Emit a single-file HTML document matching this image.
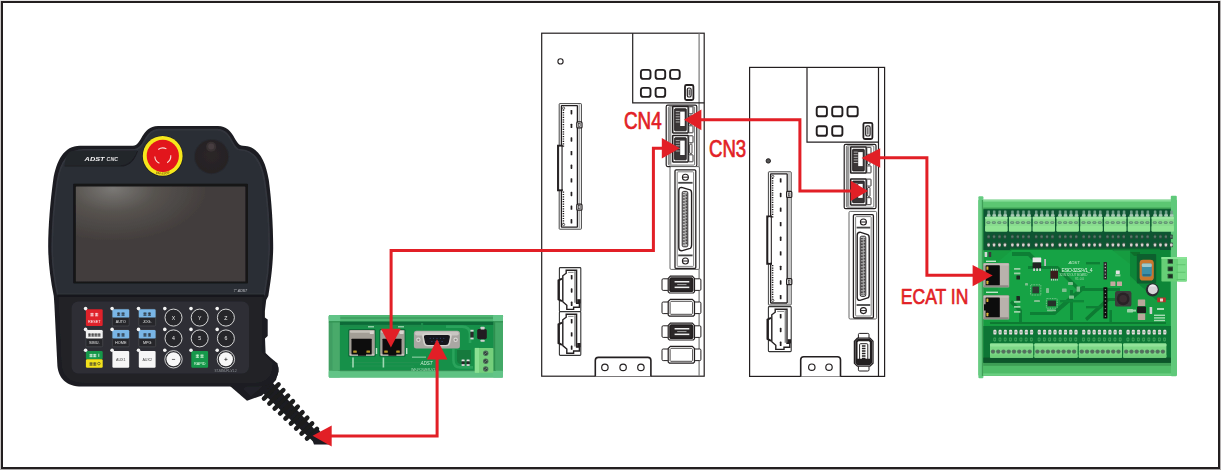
<!DOCTYPE html>
<html><head><meta charset="utf-8"><title>EtherCAT wiring</title>
<style>
html,body{margin:0;padding:0;background:#fff;}
body{width:1221px;height:470px;overflow:hidden;font-family:"Liberation Sans",sans-serif;}
svg{display:block;}
text{font-family:"Liberation Sans",sans-serif;}
</style></head><body>
<svg width="1221" height="470" viewBox="0 0 1221 470">
<rect x="0" y="0" width="1221" height="470" fill="#b4b1b1"/>
<rect x="0" y="0" width="1221" height="1" fill="#e6e4e4"/>
<rect x="0" y="1" width="1" height="469" fill="#c8c5c5"/>
<rect x="0" y="469" width="1221" height="1" fill="#aaa7a7"/>
<rect x="1" y="1" width="1219" height="468" fill="#231f20"/>
<rect x="3" y="3" width="1215" height="464" fill="#ffffff"/>
<defs>
<filter id="bl3" x="-5%" y="-5%" width="110%" height="110%"><feGaussianBlur stdDeviation="0.45"/></filter>
<radialGradient id="scr" cx="0.22" cy="0.02" r="0.55" fx="0.22" fy="0.02">
<stop offset="0" stop-color="#7a7875"/><stop offset="0.45" stop-color="#57534f"/><stop offset="1" stop-color="#433e3d"/></radialGradient>
<linearGradient id="bodyg" x1="0" y1="0" x2="1" y2="0"><stop offset="0" stop-color="#1e2025"/><stop offset="0.04" stop-color="#2a2d34"/><stop offset="0.96" stop-color="#2a2d34"/><stop offset="1" stop-color="#1e2025"/></linearGradient>
<radialGradient id="knob" cx="0.5" cy="0.45" r="0.5"><stop offset="0" stop-color="#2b2628"/><stop offset="1" stop-color="#262224"/></radialGradient>
</defs>
<g filter="url(#bl3)">
<polygon points="269.3,378.9 320.7,436.2 314.1,442.6 258.7,389.1" fill="#1c1d21"/>
<line x1="278.6" y1="384.4" x2="263.9" y2="398.6" stroke="#1a1b1f" stroke-width="4.40" stroke-linecap="round"/>
<line x1="283.4" y1="390.0" x2="269.3" y2="403.6" stroke="#1a1b1f" stroke-width="4.40" stroke-linecap="round"/>
<line x1="288.2" y1="395.5" x2="274.6" y2="408.6" stroke="#1a1b1f" stroke-width="4.40" stroke-linecap="round"/>
<line x1="293.0" y1="401.1" x2="280.0" y2="413.6" stroke="#1a1b1f" stroke-width="4.40" stroke-linecap="round"/>
<line x1="297.8" y1="406.6" x2="285.4" y2="418.6" stroke="#1a1b1f" stroke-width="4.40" stroke-linecap="round"/>
<line x1="302.6" y1="412.2" x2="290.8" y2="423.6" stroke="#1a1b1f" stroke-width="4.40" stroke-linecap="round"/>
<line x1="307.4" y1="417.7" x2="296.1" y2="428.6" stroke="#1a1b1f" stroke-width="4.40" stroke-linecap="round"/>
<line x1="312.2" y1="423.3" x2="301.5" y2="433.6" stroke="#1a1b1f" stroke-width="4.40" stroke-linecap="round"/>
<line x1="317.0" y1="428.8" x2="306.9" y2="438.6" stroke="#1a1b1f" stroke-width="4.40" stroke-linecap="round"/>
<polygon points="310.6,435 318,428.6 329,444.4 314,444.4" fill="#1c1d21"/>
<path d="M230,386 L247,400.8 L262,395.4 L276,380 L278.4,371.6 L277.6,363.6 L266,354 L240,372 Z" fill="#1b1c20"/>
<path d="M243,389 L251,396.6 L268,381 L259,374 Z" fill="#232429"/>
<path d="M80,145.8 L133,145.8 C142,145.8 141,126.6 158,126 L218,126 C235,126.6 234,145.8 243,145.8 C258,146 265.5,160 268.8,180 C271.5,200 273.2,225 273.2,247 C273,268 270,285 268.3,296 L266.2,300 L264.9,311 L264.9,317.4 L267.7,319.4 L267.7,336 L265,338.4 L265.6,353 L276.8,364.4 Q278.7,366.4 278.7,369 L278.4,372 C277,381 268,386.6 258,386.6 L82,386.6 C66,386.6 58.6,378 57.4,366 L54.4,305 L53.8,296 C50.4,280 48.2,262 48.2,247 C48.2,225 50.5,200 53.2,180 C56.5,160 64,146 80,145.8 Z" fill="#1c1d21"/>
<path d="M84,149.8 L134,149.8 C145,149.8 144,130 159.4,129.6 L217,129.6 C232.4,130 231.6,149.8 240,149.8 C254,150 261.4,162 264.6,181 C267.4,200 269.2,226 269.2,247 C269,268 266.4,284 264.4,294.4 L57.6,294.4 C54.4,280 52.2,262 52.2,247 C52.2,226 54.6,200 57.4,181 C60.6,162 68,150 84,149.8 Z" fill="#2b2e35"/>
<path d="M84,149.8 L134,149.8 C145,149.8 144,130 159.4,129.6 L217,129.6 C232.4,130 231.6,149.8 240,149.8 C254,150 261.4,162 264.6,181 C267.4,200 269.2,226 269.2,247 C269,268 266.4,284 264.4,294.4 L57.6,294.4 C54.4,280 52.2,262 52.2,247 C52.2,226 54.6,200 57.4,181 C60.6,162 68,150 84,149.8 Z" fill="none" stroke="#33363e" stroke-width="1.6"/>
<path d="M64.6,165.4 L120,165.4 C130,165.4 134,158 136.4,150.4 L74,150.4 C68,151 65.4,156 64.6,165.4 Z" fill="#24262c"/>
<path d="M64.6,166 L120,166 C131,166 135,158 137.4,151" fill="none" stroke="#1b1c20" stroke-width="1.2"/>
<text x="84.6" y="161.4" font-size="6.2" font-weight="bold" font-style="italic" fill="#f2f2f2" textLength="20" lengthAdjust="spacingAndGlyphs">ADST</text>
<text x="106.6" y="161.4" font-size="5.6" font-weight="bold" font-style="italic" fill="#e4e4e4" textLength="11.4" lengthAdjust="spacingAndGlyphs">CNC</text>
<circle cx="162.7" cy="156" r="20.6" fill="#1f2126"/>
<circle cx="162.7" cy="155.9" r="19.9" fill="#f6e71c"/>
<circle cx="162.8" cy="155.8" r="16.1" fill="#e2141b"/>
<path d="M158.21,149.45 A8,8 0 0 1 166.43,148.87" fill="none" stroke="#f8dcd4" stroke-width="1.1"/>
<path d="M170.77,155.30 A8,8 0 0 1 167.16,162.71" fill="none" stroke="#f8dcd4" stroke-width="1.1"/>
<path d="M159.42,163.25 A8,8 0 0 1 154.81,156.42" fill="none" stroke="#f8dcd4" stroke-width="1.1"/>
<path id="esarc" d="M149.4,169.2 A18.8,18.8 0 0 0 176,169.2" fill="none"/>
<text font-size="3.2" font-weight="bold" fill="#7a5a10"><textPath href="#esarc" startOffset="26%">EM-STOP</textPath></text>
<circle cx="211.6" cy="156.6" r="17.6" fill="#26292f"/>
<circle cx="211.6" cy="156.6" r="16.6" fill="url(#knob)"/>
<circle cx="211.2" cy="146.8" r="5" fill="#383133"/>
<circle cx="211.2" cy="146.6" r="3" fill="#463e41"/>
<rect x="73.2" y="183.8" width="174.8" height="99.6" rx="1" fill="#131316" />
<rect x="75.8" y="186.6" width="169.6" height="94.8" rx="0.5" fill="url(#scr)" />
<text x="233.6" y="291.6" font-size="3.4" font-style="italic" fill="#c9ccd2" textLength="13.6">7&quot; ADST</text>
<path d="M57.4,294.4 L264,294.4 L264,296.4 L57.6,296.4 Z" fill="#16171a"/>
<path d="M58.6,297 L262.6,297 L261.6,352 L272.6,363 C273,376 266,382.8 256,382.8 L84,382.8 C70,382.8 62.6,376 61.6,364 Z" fill="#222328"/>
<rect x="71.6" y="301.4" width="177.4" height="72.2" rx="7" fill="#2e2f35" />
<rect x="85.9" y="309.2" width="16.8" height="16.8" rx="1.2" fill="#e0202a" />
<rect x="90.40" y="312.90" width="3.20" height="3.20" fill="#ffffff" opacity="0.32"/>
<path d="M90.40,313.82 h3.20 M92.00,312.90 v3.20 M90.40,315.90 h3.20" stroke="#ffffff" stroke-width="0.55" fill="none"/>
<rect x="95.00" y="312.90" width="3.20" height="3.20" fill="#ffffff" opacity="0.32"/>
<path d="M95.00,313.82 h3.20 M96.60,312.90 v3.20 M95.00,315.90 h3.20" stroke="#ffffff" stroke-width="0.55" fill="none"/>
<text x="94.3" y="323" font-size="4.2" fill="#fff" text-anchor="middle" textLength="12.4" lengthAdjust="spacingAndGlyphs">RESET</text>
<rect x="112.4" y="309.2" width="16.8" height="16.8" rx="1.2" fill="#26272b" stroke="#4a4b50" stroke-width="0.7"/>
<rect x="112.4" y="309.2" width="16.8" height="8.4" rx="1.2" fill="#79b6e6" />
<rect x="117.00" y="312.40" width="3.10" height="3.10" fill="#1d1d20" opacity="0.32"/>
<path d="M117.00,313.28 h3.10 M118.55,312.40 v3.10 M117.00,315.30 h3.10" stroke="#1d1d20" stroke-width="0.55" fill="none"/>
<rect x="121.50" y="312.40" width="3.10" height="3.10" fill="#1d1d20" opacity="0.32"/>
<path d="M121.50,313.28 h3.10 M123.05,312.40 v3.10 M121.50,315.30 h3.10" stroke="#1d1d20" stroke-width="0.55" fill="none"/>
<text x="120.8" y="323.4" font-size="4" fill="#e6e6e6" text-anchor="middle" textLength="10" lengthAdjust="spacingAndGlyphs">AUTO</text>
<rect x="138.8" y="309.2" width="16.8" height="16.8" rx="1.2" fill="#26272b" stroke="#4a4b50" stroke-width="0.7"/>
<rect x="138.8" y="309.2" width="16.8" height="8.4" rx="1.2" fill="#79b6e6" />
<rect x="143.40" y="312.40" width="3.10" height="3.10" fill="#1d1d20" opacity="0.32"/>
<path d="M143.40,313.28 h3.10 M144.95,312.40 v3.10 M143.40,315.30 h3.10" stroke="#1d1d20" stroke-width="0.55" fill="none"/>
<rect x="147.90" y="312.40" width="3.10" height="3.10" fill="#1d1d20" opacity="0.32"/>
<path d="M147.90,313.28 h3.10 M149.45,312.40 v3.10 M147.90,315.30 h3.10" stroke="#1d1d20" stroke-width="0.55" fill="none"/>
<text x="147.2" y="323.4" font-size="4" fill="#e6e6e6" text-anchor="middle" textLength="9" lengthAdjust="spacingAndGlyphs">JOG.</text>
<rect x="85.9" y="330" width="16.8" height="16.8" rx="1.2" fill="#26272b" stroke="#4a4b50" stroke-width="0.7"/>
<rect x="85.9" y="330" width="16.8" height="8.4" rx="1.2" fill="#f2f2f2" />
<rect x="88.05" y="333.40" width="2.90" height="2.90" fill="#1d1d20" opacity="0.32"/>
<path d="M88.05,334.20 h2.90 M89.50,333.40 v2.90 M88.05,336.10 h2.90" stroke="#1d1d20" stroke-width="0.55" fill="none"/>
<rect x="91.25" y="333.40" width="2.90" height="2.90" fill="#1d1d20" opacity="0.32"/>
<path d="M91.25,334.20 h2.90 M92.70,333.40 v2.90 M91.25,336.10 h2.90" stroke="#1d1d20" stroke-width="0.55" fill="none"/>
<rect x="94.45" y="333.40" width="2.90" height="2.90" fill="#1d1d20" opacity="0.32"/>
<path d="M94.45,334.20 h2.90 M95.90,333.40 v2.90 M94.45,336.10 h2.90" stroke="#1d1d20" stroke-width="0.55" fill="none"/>
<rect x="97.65" y="333.40" width="2.90" height="2.90" fill="#1d1d20" opacity="0.32"/>
<path d="M97.65,334.20 h2.90 M99.10,333.40 v2.90 M97.65,336.10 h2.90" stroke="#1d1d20" stroke-width="0.55" fill="none"/>
<text x="94.3" y="344.2" font-size="4" fill="#e6e6e6" text-anchor="middle" textLength="10.6" lengthAdjust="spacingAndGlyphs">SIMU.</text>
<rect x="112.4" y="330" width="16.8" height="16.8" rx="1.2" fill="#26272b" stroke="#4a4b50" stroke-width="0.7"/>
<rect x="112.4" y="330" width="16.8" height="8.4" rx="1.2" fill="#79b6e6" />
<rect x="117.00" y="333.20" width="3.10" height="3.10" fill="#1d1d20" opacity="0.32"/>
<path d="M117.00,334.08 h3.10 M118.55,333.20 v3.10 M117.00,336.10 h3.10" stroke="#1d1d20" stroke-width="0.55" fill="none"/>
<rect x="121.50" y="333.20" width="3.10" height="3.10" fill="#1d1d20" opacity="0.32"/>
<path d="M121.50,334.08 h3.10 M123.05,333.20 v3.10 M121.50,336.10 h3.10" stroke="#1d1d20" stroke-width="0.55" fill="none"/>
<text x="120.8" y="344.2" font-size="4" fill="#e6e6e6" text-anchor="middle" textLength="11.4" lengthAdjust="spacingAndGlyphs">HOME</text>
<rect x="138.8" y="330" width="16.8" height="16.8" rx="1.2" fill="#26272b" stroke="#4a4b50" stroke-width="0.7"/>
<rect x="138.8" y="330" width="16.8" height="8.4" rx="1.2" fill="#79b6e6" />
<rect x="143.40" y="333.20" width="3.10" height="3.10" fill="#1d1d20" opacity="0.32"/>
<path d="M143.40,334.08 h3.10 M144.95,333.20 v3.10 M143.40,336.10 h3.10" stroke="#1d1d20" stroke-width="0.55" fill="none"/>
<rect x="147.90" y="333.20" width="3.10" height="3.10" fill="#1d1d20" opacity="0.32"/>
<path d="M147.90,334.08 h3.10 M149.45,333.20 v3.10 M147.90,336.10 h3.10" stroke="#1d1d20" stroke-width="0.55" fill="none"/>
<text x="147.2" y="344.2" font-size="4" fill="#e6e6e6" text-anchor="middle" textLength="8.6" lengthAdjust="spacingAndGlyphs">MPG</text>
<rect x="85.9" y="350.9" width="16.8" height="8.4" rx="1.2" fill="#14984a" />
<rect x="85.9" y="359.3" width="16.8" height="8.4" rx="1.2" fill="#f3e21c" />
<rect x="89.50" y="353.90" width="3.10" height="3.10" fill="#ffffff" opacity="0.32"/>
<path d="M89.50,354.78 h3.10 M91.05,353.90 v3.10 M89.50,356.80 h3.10" stroke="#ffffff" stroke-width="0.55" fill="none"/>
<rect x="93.20" y="353.90" width="3.10" height="3.10" fill="#ffffff" opacity="0.32"/>
<path d="M93.20,354.78 h3.10 M94.75,353.90 v3.10 M93.20,356.80 h3.10" stroke="#ffffff" stroke-width="0.55" fill="none"/>
<rect x="98.5" y="353.7" width="0.7" height="3.2" fill="#fff"/>
<rect x="89.50" y="362.30" width="3.10" height="3.10" fill="#333333" opacity="0.32"/>
<path d="M89.50,363.18 h3.10 M91.05,362.30 v3.10 M89.50,365.20 h3.10" stroke="#333333" stroke-width="0.55" fill="none"/>
<rect x="93.20" y="362.30" width="3.10" height="3.10" fill="#333333" opacity="0.32"/>
<path d="M93.20,363.18 h3.10 M94.75,362.30 v3.10 M93.20,365.20 h3.10" stroke="#333333" stroke-width="0.55" fill="none"/>
<circle cx="98.9" cy="363.6" r="1.3" fill="none" stroke="#333" stroke-width="0.6"/>
<rect x="112.4" y="350.9" width="16.8" height="16.8" rx="1.2" fill="#f6f6f6" />
<text x="120.8" y="360.7" font-size="3.8" fill="#444" text-anchor="middle" textLength="9.6" lengthAdjust="spacingAndGlyphs">AUX1</text>
<rect x="138.8" y="350.9" width="16.8" height="16.8" rx="1.2" fill="#f6f6f6" />
<text x="147.2" y="360.7" font-size="3.8" fill="#444" text-anchor="middle" textLength="9.6" lengthAdjust="spacingAndGlyphs">AUX2</text>
<circle cx="173.5" cy="317.6" r="8.5" fill="#26272b" stroke="#e8e8e8" stroke-width="0.9"/>
<text x="173.5" y="319.5" font-size="5.2" fill="#ececec" text-anchor="middle">X</text>
<circle cx="199.7" cy="317.6" r="8.5" fill="#26272b" stroke="#e8e8e8" stroke-width="0.9"/>
<text x="199.7" y="319.5" font-size="5.2" fill="#ececec" text-anchor="middle">Y</text>
<circle cx="225.9" cy="317.6" r="8.5" fill="#26272b" stroke="#e8e8e8" stroke-width="0.9"/>
<text x="225.9" y="319.5" font-size="5.2" fill="#ececec" text-anchor="middle">Z</text>
<circle cx="173.5" cy="338.4" r="8.5" fill="#26272b" stroke="#e8e8e8" stroke-width="0.9"/>
<text x="173.5" y="340.3" font-size="5.2" fill="#ececec" text-anchor="middle">4</text>
<circle cx="199.7" cy="338.4" r="8.5" fill="#26272b" stroke="#e8e8e8" stroke-width="0.9"/>
<text x="199.7" y="340.3" font-size="5.2" fill="#ececec" text-anchor="middle">5</text>
<circle cx="225.9" cy="338.4" r="8.5" fill="#26272b" stroke="#e8e8e8" stroke-width="0.9"/>
<text x="225.9" y="340.3" font-size="5.2" fill="#ececec" text-anchor="middle">6</text>
<circle cx="173.5" cy="359.3" r="8.7" fill="#2a2a2e" stroke="#f2f2f2" stroke-width="0.8"/>
<circle cx="173.5" cy="359.3" r="7" fill="#f7f7f7"/>
<rect x="171.9" y="358.95" width="3.2" height="0.7" fill="#333"/>
<circle cx="225.9" cy="359.3" r="8.7" fill="#2a2a2e" stroke="#f2f2f2" stroke-width="0.8"/>
<circle cx="225.9" cy="359.3" r="7" fill="#f7f7f7"/>
<rect x="224.3" y="358.95" width="3.2" height="0.7" fill="#333"/>
<rect x="225.55" y="357.7" width="0.7" height="3.2" fill="#333"/>
<rect x="191.3" y="350.9" width="16.8" height="16.8" rx="1.2" fill="#17984b" />
<rect x="195.80" y="354.40" width="3.20" height="3.20" fill="#eaffea" opacity="0.32"/>
<path d="M195.80,355.32 h3.20 M197.40,354.40 v3.20 M195.80,357.40 h3.20" stroke="#eaffea" stroke-width="0.55" fill="none"/>
<rect x="200.40" y="354.40" width="3.20" height="3.20" fill="#eaffea" opacity="0.32"/>
<path d="M200.40,355.32 h3.20 M202.00,354.40 v3.20 M200.40,357.40 h3.20" stroke="#eaffea" stroke-width="0.55" fill="none"/>
<text x="199.7" y="364.5" font-size="4" fill="#eaffea" text-anchor="middle" textLength="11.6" lengthAdjust="spacingAndGlyphs">RAPID</text>
<circle cx="85.6" cy="308.6" r="1.8" fill="#f4f4f4"/>
<circle cx="112.1" cy="308.6" r="1.8" fill="#f4f4f4"/>
<circle cx="138.5" cy="308.6" r="1.8" fill="#f4f4f4"/>
<circle cx="164.8" cy="308.6" r="1.8" fill="#f4f4f4"/>
<circle cx="191" cy="308.6" r="1.8" fill="#f4f4f4"/>
<circle cx="217.2" cy="308.6" r="1.8" fill="#f4f4f4"/>
<circle cx="85.6" cy="329.4" r="1.8" fill="#f4f4f4"/>
<circle cx="112.1" cy="329.4" r="1.8" fill="#f4f4f4"/>
<circle cx="138.5" cy="329.4" r="1.8" fill="#f4f4f4"/>
<circle cx="164.8" cy="329.4" r="1.8" fill="#f4f4f4"/>
<circle cx="191" cy="329.4" r="1.8" fill="#f4f4f4"/>
<circle cx="217.2" cy="329.4" r="1.8" fill="#f4f4f4"/>
<circle cx="85.6" cy="350.3" r="1.8" fill="#f4f4f4"/>
<circle cx="112.1" cy="350.3" r="1.8" fill="#f4f4f4"/>
<circle cx="138.5" cy="350.3" r="1.8" fill="#f4f4f4"/>
<circle cx="164.8" cy="350.3" r="1.8" fill="#f4f4f4"/>
<circle cx="191" cy="350.3" r="1.8" fill="#f4f4f4"/>
<circle cx="217.2" cy="350.3" r="1.8" fill="#f4f4f4"/>
<text x="214.6" y="372.4" font-size="3" fill="#9a9ca3" textLength="22">ST-MINI-F1-V1.2</text>
</g>
<defs><filter id="bl1" x="-5%" y="-10%" width="110%" height="120%"><feGaussianBlur stdDeviation="0.55"/></filter></defs>
<g filter="url(#bl1)">
<rect x="328.8" y="315" width="174.2" height="62.6" rx="1.2" fill="#4fb270" />
<rect x="328.8" y="315" width="174.2" height="6.6" rx="1" fill="#50b673" />
<rect x="328.8" y="317.2" width="174.2" height="1.6" rx="0" fill="#3f9c5f" />
<rect x="328.8" y="370.6" width="174.2" height="7" rx="1" fill="#5fc283" />
<rect x="338" y="369.6" width="158" height="1.6" rx="0" fill="#3a8f57" />
<rect x="328.8" y="321.6" width="11.2" height="49" rx="0" fill="#3f9e62" />
<rect x="332.5" y="321.6" width="7" height="49" rx="0" fill="#48aa6a" />
<rect x="493.2" y="321.6" width="9.8" height="49" rx="0" fill="#43a866" />
<rect x="493.2" y="321.6" width="2" height="49" rx="0" fill="#2f8f50" />
<rect x="493" y="315" width="10" height="6.4" rx="1" fill="#62c487" />
<rect x="493" y="371" width="10" height="6.6" rx="1" fill="#62c487" />
<rect x="328.8" y="315" width="11.4" height="6.4" rx="1" fill="#62c487" />
<rect x="328.8" y="371" width="11.4" height="6.6" rx="1" fill="#62c487" />
<rect x="493" y="321.2" width="10" height="1.2" rx="0" fill="#2f8f50" />
<rect x="328.8" y="321.2" width="11.2" height="1.2" rx="0" fill="#2f8f50" />
<rect x="340" y="321.6" width="153.2" height="48.6" rx="0" fill="#17904a" />
<rect x="340" y="321.6" width="153.2" height="3.4" rx="0" fill="#0f6a38" />
<rect x="343" y="324.8" width="80" height="2.2" rx="0" fill="#1b8a49" />
<path d="M446,326.6 H462 Q470,326.6 470,334 V343" fill="none" stroke="#2aa35b" stroke-width="2.6"/>
<path d="M453.4,349 V360 Q453.4,367.4 460.4,367.4 H473" fill="none" stroke="#2aa35b" stroke-width="2.6"/>
<path d="M457,350 h14 v14 h-10 q-4,0 -4,-4 Z" fill="#127a3e"/>
<rect x="350" y="362" width="70" height="1.3" rx="0" fill="#209150" />
<rect x="350" y="365.5" width="64" height="1.3" rx="0" fill="#209150" />
<rect x="421" y="323" width="2.2" height="14" rx="0" fill="#1c8d4b" />
<rect x="348.2" y="329" width="27.6" height="27.8" rx="1.5" fill="#0f6a38" />
<rect x="349.2" y="330" width="25.6" height="25.8" rx="1" fill="#a39e96" />
<rect x="350" y="330.6" width="24" height="2.2" rx="0.8" fill="#c6c2ba" />
<rect x="369.8" y="331" width="4" height="3" rx="0.6" fill="#d8d5cf" />
<rect x="349.8" y="353.8" width="24.4" height="1.6" rx="0.5" fill="#c9c6c0" />
<rect x="351.5" y="338.8" width="20.2" height="15.6" rx="0.5" fill="#0c0b0d" />
<rect x="358" y="353.4" width="8" height="2.4" rx="0.3" fill="#0c0b0d" />
<rect x="353.2" y="350.6" width="3.6" height="2.2" rx="0.5" fill="#b99a2c" />
<rect x="366.4" y="350.6" width="3.6" height="2.2" rx="0.5" fill="#b99a2c" />
<rect x="379.2" y="329" width="26.4" height="27.8" rx="1.5" fill="#0f6a38" />
<rect x="380.2" y="330" width="24.4" height="25.8" rx="1" fill="#a39e96" />
<rect x="381" y="330.6" width="22.8" height="2.2" rx="0.8" fill="#c6c2ba" />
<rect x="399.6" y="331" width="4" height="3" rx="0.6" fill="#d8d5cf" />
<rect x="380.8" y="353.8" width="23.2" height="1.6" rx="0.5" fill="#c9c6c0" />
<rect x="382.5" y="338.8" width="19" height="15.6" rx="0.5" fill="#0c0b0d" />
<rect x="388.4" y="353.4" width="8" height="2.4" rx="0.3" fill="#0c0b0d" />
<rect x="384.2" y="350.6" width="3.6" height="2.2" rx="0.5" fill="#b99a2c" />
<rect x="396.2" y="350.6" width="3.6" height="2.2" rx="0.5" fill="#b99a2c" />
<rect x="352.2" y="357.5" width="1.6" height="10" rx="0" fill="#9fd8b2" />
<rect x="382.6" y="357.5" width="1.6" height="10" rx="0" fill="#9fd8b2" />
<rect x="375.8" y="348" width="1.4" height="6" rx="0" fill="#bfe6cc" />
<rect x="406" y="348" width="1.4" height="6" rx="0" fill="#bfe6cc" />
<rect x="368" y="326.2" width="6" height="1.2" rx="0" fill="#a8dcb9" />
<rect x="398" y="326.2" width="6" height="1.2" rx="0" fill="#a8dcb9" />
<rect x="413.9" y="330.7" width="46" height="17.8" rx="2.5" fill="#aaa7a3" />
<rect x="415" y="331.6" width="43.8" height="4" rx="2" fill="#c9c6c2" />
<path d="M424.6,333.6 h24.6 q3,0 2.4,3 l-1.4,7 q-0.6,2.6 -3.4,2.6 h-19.8 q-2.8,0 -3.4,-2.6 l-1.4,-7 q-0.6,-3 2.4,-3 Z" fill="#d6d3cf"/>
<path d="M426,335 h21.8 q2.4,0 2,2.4 l-1.1,5.4 q-0.5,2.2 -2.8,2.2 h-18 q-2.3,0 -2.8,-2.2 l-1.1,-5.4 q-0.4,-2.4 2,-2.4 Z" fill="#17161c"/>
<circle cx="418.4" cy="339.8" r="2.2" fill="#d9d7d3"/>
<circle cx="418.4" cy="339.8" r="1.1" fill="#8d8a86"/>
<circle cx="455.6" cy="339.8" r="2.2" fill="#d9d7d3"/>
<circle cx="455.6" cy="339.8" r="1.1" fill="#8d8a86"/>
<circle cx="430.2" cy="338.3" r="0.55" fill="#3b4b86"/>
<circle cx="433.6" cy="338.3" r="0.55" fill="#3b4b86"/>
<circle cx="437" cy="338.3" r="0.55" fill="#3b4b86"/>
<circle cx="440.4" cy="338.3" r="0.55" fill="#3b4b86"/>
<circle cx="443.8" cy="338.3" r="0.55" fill="#3b4b86"/>
<circle cx="431.9" cy="341.6" r="0.55" fill="#3b4b86"/>
<circle cx="435.3" cy="341.6" r="0.55" fill="#3b4b86"/>
<circle cx="438.7" cy="341.6" r="0.55" fill="#3b4b86"/>
<circle cx="442.1" cy="341.6" r="0.55" fill="#3b4b86"/>
<text x="420.5" y="365.2" font-size="4.6" fill="#c8ecd4" font-style="italic" textLength="12">ADST</text>
<text x="411" y="371" font-size="3.6" fill="#9fd8b2" textLength="27">WF-POWER-V1.0</text>
<rect x="412" y="356.6" width="14" height="1.1" rx="0" fill="#8fd0a6" />
<rect x="477.2" y="329" width="9.6" height="10.2" rx="1.6" fill="#241c20" />
<rect x="480.6" y="326.8" width="4" height="2.6" rx="0.4" fill="#cfcfcf" />
<rect x="480.6" y="339.8" width="4" height="2" rx="0.4" fill="#cfcfcf" />
<rect x="470.4" y="331.4" width="3.2" height="6.4" rx="0.4" fill="#2a2a2a" />
<rect x="470.4" y="329.8" width="3.2" height="1.8" rx="0" fill="#d8d8d8" />
<rect x="470.4" y="337.6" width="3.2" height="1.8" rx="0" fill="#d8d8d8" />
<rect x="461.6" y="359.6" width="3" height="2" rx="0.3" fill="#e6e6e6" />
<rect x="461.6" y="364" width="3" height="2" rx="0.3" fill="#cfcfcf" />
<rect x="461.6" y="361.4" width="3" height="2.7" rx="0" fill="#262626" />
<rect x="466.6" y="359.6" width="3" height="2" rx="0.3" fill="#e6e6e6" />
<rect x="466.6" y="364" width="3" height="2" rx="0.3" fill="#cfcfcf" />
<rect x="466.6" y="361.4" width="3" height="2.7" rx="0" fill="#262626" />
<rect x="474.8" y="347.9" width="18.6" height="24.9" rx="0.8" fill="#74cf7c" />
<rect x="474.8" y="347.9" width="4.2" height="24.9" rx="0" fill="#8be092" />
<circle cx="485.7" cy="353.3" r="2.7" fill="#4b6b58"/>
<circle cx="485.7" cy="353.3" r="1.6" fill="#2b3a33"/>
<line x1="484.3" y1="354.3" x2="487.1" y2="352.3" stroke="#9bb3a4" stroke-width="0.6"/>
<circle cx="485.7" cy="361.2" r="2.7" fill="#4b6b58"/>
<circle cx="485.7" cy="361.2" r="1.6" fill="#2b3a33"/>
<line x1="484.3" y1="362.2" x2="487.1" y2="360.2" stroke="#9bb3a4" stroke-width="0.6"/>
<circle cx="485.7" cy="369" r="2.7" fill="#4b6b58"/>
<circle cx="485.7" cy="369" r="1.6" fill="#2b3a33"/>
<line x1="484.3" y1="370" x2="487.1" y2="368" stroke="#9bb3a4" stroke-width="0.6"/>
</g>
<rect x="541.7" y="33.2" width="162.5" height="343" fill="#fff" stroke="#231f20" stroke-width="1.2"/>
<line x1="699.1" y1="33.2" x2="699.1" y2="376.2" stroke="#777" stroke-width="1.2"/>
<path d="M632.7,33.2 L632.7,102.9 L704.2,102.9" fill="none" stroke="#231f20" stroke-width="1.2"/>
<circle cx="560.5" cy="61.4" r="2.6" fill="#fff" stroke="#231f20" stroke-width="1.1"/>
<rect x="640.9" y="69.9" width="9.6" height="9" rx="2.4" fill="#fff" stroke="#231f20" stroke-width="1.9"/>
<rect x="655.6" y="69.9" width="9.6" height="9" rx="2.4" fill="#fff" stroke="#231f20" stroke-width="1.9"/>
<rect x="670.1" y="69.9" width="9.6" height="9" rx="2.4" fill="#fff" stroke="#231f20" stroke-width="1.9"/>
<rect x="640.9" y="87.9" width="9.6" height="9" rx="2.4" fill="#fff" stroke="#231f20" stroke-width="1.9"/>
<rect x="655.6" y="87.9" width="9.6" height="9" rx="2.4" fill="#fff" stroke="#231f20" stroke-width="1.9"/>
<rect x="685" y="85" width="8.4" height="15" rx="1.5" fill="#fff" stroke="#231f20" stroke-width="1.8"/>
<rect x="687.3" y="88" width="3.8" height="9" rx="1.6" fill="#fff" stroke="#231f20" stroke-width="1.2"/>
<line x1="689.2" y1="89.5" x2="689.2" y2="95.5" stroke="#231f20" stroke-width="1"/>
<rect x="666.2" y="105.2" width="30.6" height="61.4" rx="1.5" fill="#fff" stroke="#231f20" stroke-width="1.2"/>
<rect x="668.4" y="106.7" width="26.2" height="58.4" rx="1" fill="#fff" stroke="#555" stroke-width="0.8"/>
<rect x="668.8" y="107.2" width="2.6" height="57.4" fill="#9a9a9a"/>
<rect x="672.7" y="106.6" width="15.5" height="26.4" rx="0.4" fill="#fff" stroke="#231f20" stroke-width="1.5"/>
<rect x="674.7" y="108.8" width="11.5" height="22" rx="0.5" fill="#3a3637" stroke="#231f20" stroke-width="1"/>
<rect x="680.2" y="111.6" width="4.5" height="14.4" fill="#fff"/>
<line x1="675.7" y1="111.6" x2="679.7" y2="111.6" stroke="#ddd" stroke-width="0.7"/>
<line x1="675.7" y1="114.2" x2="679.7" y2="114.2" stroke="#ddd" stroke-width="0.7"/>
<line x1="675.7" y1="116.8" x2="679.7" y2="116.8" stroke="#ddd" stroke-width="0.7"/>
<line x1="675.7" y1="119.4" x2="679.7" y2="119.4" stroke="#ddd" stroke-width="0.7"/>
<line x1="675.7" y1="122" x2="679.7" y2="122" stroke="#ddd" stroke-width="0.7"/>
<rect x="688.8" y="106.8" width="4.2" height="7" rx="0.5" fill="#fff" stroke="#231f20" stroke-width="0.9"/>
<rect x="688.8" y="125.8" width="4.2" height="7" rx="0.5" fill="#fff" stroke="#231f20" stroke-width="0.9"/>
<rect x="689.6" y="115.2" width="2.4" height="9.2" rx="0.4" fill="#fff" stroke="#231f20" stroke-width="0.8"/>
<rect x="672.7" y="135.6" width="15.5" height="26.4" rx="0.4" fill="#fff" stroke="#231f20" stroke-width="1.5"/>
<rect x="674.7" y="137.8" width="11.5" height="22" rx="0.5" fill="#3a3637" stroke="#231f20" stroke-width="1"/>
<rect x="680.2" y="140.6" width="4.5" height="14.4" fill="#fff"/>
<line x1="675.7" y1="140.6" x2="679.7" y2="140.6" stroke="#ddd" stroke-width="0.7"/>
<line x1="675.7" y1="143.2" x2="679.7" y2="143.2" stroke="#ddd" stroke-width="0.7"/>
<line x1="675.7" y1="145.8" x2="679.7" y2="145.8" stroke="#ddd" stroke-width="0.7"/>
<line x1="675.7" y1="148.4" x2="679.7" y2="148.4" stroke="#ddd" stroke-width="0.7"/>
<line x1="675.7" y1="151" x2="679.7" y2="151" stroke="#ddd" stroke-width="0.7"/>
<rect x="688.8" y="135.8" width="4.2" height="7" rx="0.5" fill="#fff" stroke="#231f20" stroke-width="0.9"/>
<rect x="688.8" y="154.8" width="4.2" height="7" rx="0.5" fill="#fff" stroke="#231f20" stroke-width="0.9"/>
<rect x="689.6" y="144.2" width="2.4" height="9.2" rx="0.4" fill="#fff" stroke="#231f20" stroke-width="0.8"/>
<rect x="670" y="166.6" width="29.4" height="102.8" rx="1.2" fill="#fff" stroke="#555" stroke-width="0.9"/>
<rect x="675" y="169.8" width="20.8" height="98.6" rx="1.2" fill="#fff" stroke="#231f20" stroke-width="1.3"/>
<rect x="677.2" y="171.8" width="16.4" height="94.6" rx="0.8" fill="#fff" stroke="#666" stroke-width="0.8"/>
<circle cx="685.4" cy="177.2" r="3.0" fill="#fff" stroke="#231f20" stroke-width="1.1"/>
<line x1="682.4" y1="177.2" x2="688.4" y2="177.2" stroke="#231f20" stroke-width="1"/>
<line x1="678.2" y1="182.8" x2="692.6" y2="182.8" stroke="#444" stroke-width="1.8"/>
<circle cx="685.4" cy="261" r="3.0" fill="#fff" stroke="#231f20" stroke-width="1.1"/>
<line x1="682.4" y1="261" x2="688.4" y2="261" stroke="#231f20" stroke-width="1"/>
<line x1="678.2" y1="255.4" x2="692.6" y2="255.4" stroke="#444" stroke-width="1.8"/>
<path d="M678.8,190.4 Q678.8,187.4 681.6,187.4 L690.1,189.9 Q691.6,190.4 691.6,193.4 L691.6,244.8 Q691.6,247.8 690.1,248.3 L681.6,250.8 Q678.8,250.8 678.8,247.8 Z" fill="#fff" stroke="#231f20" stroke-width="1.4"/>
<rect x="682.2" y="191.4" width="5.6" height="55.4" rx="1.5" fill="#bbb" stroke="#231f20" stroke-width="0.9"/>
<line x1="683.8" y1="193.4" x2="683.8" y2="244.8" stroke="#231f20" stroke-width="2.0" stroke-dasharray="0.7 0.8"/>
<line x1="686.4" y1="193.8" x2="686.4" y2="244.8" stroke="#231f20" stroke-width="1.6" stroke-dasharray="0.7 0.8"/>
<rect x="559.2" y="103.6" width="22.2" height="125.6" rx="0.6" fill="#fff" stroke="#444" stroke-width="1"/>
<rect x="561.4" y="105.6" width="16" height="121.6" rx="0.4" fill="#fff" stroke="#231f20" stroke-width="1.3"/>
<line x1="579.2" y1="104.6" x2="579.2" y2="228.2" stroke="#666" stroke-width="0.7"/>
<rect x="570.6" y="110" width="1.7" height="4.4" rx="0.6" fill="#231f20"/>
<rect x="570.6" y="123.637" width="1.7" height="4.4" rx="0.6" fill="#231f20"/>
<rect x="570.6" y="137.275" width="1.7" height="4.4" rx="0.6" fill="#231f20"/>
<rect x="570.6" y="150.912" width="1.7" height="4.4" rx="0.6" fill="#231f20"/>
<rect x="570.6" y="164.55" width="1.7" height="4.4" rx="0.6" fill="#231f20"/>
<rect x="570.6" y="178.188" width="1.7" height="4.4" rx="0.6" fill="#231f20"/>
<rect x="570.6" y="191.825" width="1.7" height="4.4" rx="0.6" fill="#231f20"/>
<rect x="570.6" y="205.462" width="1.7" height="4.4" rx="0.6" fill="#231f20"/>
<rect x="570.6" y="219.1" width="1.7" height="4.4" rx="0.6" fill="#231f20"/>
<line x1="563.4" y1="109.6" x2="563.4" y2="146.932" stroke="#231f20" stroke-width="1.5" stroke-dasharray="1.2 1.2"/>
<line x1="563.4" y1="191.52" x2="563.4" y2="224.2" stroke="#231f20" stroke-width="1.5" stroke-dasharray="1.2 1.2"/>
<circle cx="563.6" cy="108.2" r="1.1" fill="#fff" stroke="#231f20" stroke-width="0.7"/>
<circle cx="563.6" cy="224.6" r="1.1" fill="#fff" stroke="#231f20" stroke-width="0.7"/>
<path d="M562.8,145.676 L558,145.676 L558,190.264 L562.8,190.264" fill="none" stroke="#231f20" stroke-width="1.9"/>
<rect x="559.2" y="146.676" width="2.6" height="42.588" fill="#fff"/>
<line x1="562.1" y1="145.676" x2="562.1" y2="190.264" stroke="#231f20" stroke-width="1"/>
<rect x="576.8" y="121.952" width="5.2" height="6" rx="1" fill="#fff" stroke="#231f20" stroke-width="1.2"/>
<rect x="578.5" y="123.352" width="1.7" height="3.2" fill="#ccc" stroke="#231f20" stroke-width="0.6"/>
<rect x="576.8" y="204.22" width="5.2" height="6" rx="1" fill="#fff" stroke="#231f20" stroke-width="1.2"/>
<rect x="578.5" y="205.62" width="1.7" height="3.2" fill="#ccc" stroke="#231f20" stroke-width="0.6"/>
<rect x="559.4" y="267.6" width="21.4" height="44" rx="0.8" fill="#fff" stroke="#333" stroke-width="1.1"/>
<path d="M566.2,270.2 L576.6,270.2 L576.6,303.2 L579.4,303.2 L579.4,307.2 L573.6,307.2 L573.6,309.4 L566.8,309.4 L566.8,305.2 L562.8,301.8 L562.8,275.8 L566.2,273.2 Z" fill="#fff" stroke="#231f20" stroke-width="1.4"/>
<line x1="575" y1="271.2" x2="575" y2="302.8" stroke="#8a8a8a" stroke-width="1.6"/>
<line x1="568.2" y1="272.4" x2="573.6" y2="272.4" stroke="#555" stroke-width="0.7"/>
<rect x="570.8" y="275" width="1.7" height="4.4" rx="0.6" fill="#231f20"/>
<rect x="570.8" y="288.3" width="1.7" height="4.4" rx="0.6" fill="#231f20"/>
<rect x="570.8" y="301.6" width="1.7" height="4.4" rx="0.6" fill="#231f20"/>
<path d="M562,278.6 L558.5,280.36 L558.5,299.28 L562,301.04" fill="none" stroke="#231f20" stroke-width="2"/>
<rect x="577.2" y="299.2" width="3.4" height="4.2" fill="#231f20"/>
<rect x="559.4" y="311.6" width="21.4" height="43.8" rx="0.8" fill="#fff" stroke="#333" stroke-width="1.1"/>
<path d="M566.2,314.2 L576.6,314.2 L576.6,347 L579.4,347 L579.4,351 L573.6,351 L573.6,353.2 L566.8,353.2 L566.8,349 L562.8,345.6 L562.8,319.8 L566.2,317.2 Z" fill="#fff" stroke="#231f20" stroke-width="1.4"/>
<line x1="575" y1="315.2" x2="575" y2="346.6" stroke="#8a8a8a" stroke-width="1.6"/>
<line x1="568.2" y1="316.4" x2="573.6" y2="316.4" stroke="#555" stroke-width="0.7"/>
<rect x="570.8" y="319" width="1.7" height="4.4" rx="0.6" fill="#231f20"/>
<rect x="570.8" y="332.2" width="1.7" height="4.4" rx="0.6" fill="#231f20"/>
<rect x="570.8" y="345.4" width="1.7" height="4.4" rx="0.6" fill="#231f20"/>
<path d="M562,322.55 L558.5,324.302 L558.5,343.136 L562,344.888" fill="none" stroke="#231f20" stroke-width="2"/>
<rect x="577.2" y="343" width="3.4" height="4.2" fill="#231f20"/>
<rect x="662" y="278.8" width="7" height="11.6" rx="1.2" fill="#fff" stroke="#231f20" stroke-width="1"/>
<rect x="693.9" y="278.8" width="7" height="11.6" rx="1.2" fill="#fff" stroke="#231f20" stroke-width="1"/>
<polygon points="670.4,276.2 692.3,276.2 694.5,278.4 694.5,291.8 693.3,293 669.4,293 668.2,291.8 668.2,278.4" fill="#fff" stroke="#231f20" stroke-width="1.2"/>
<polygon points="671.16,278.1 691.54,278.1 692.6,279.16 692.6,290.5 692,291.1 670.7,291.1 670.1,290.5 670.1,279.16" fill="#2b2728" stroke="#231f20" stroke-width="1.8"/>
<rect x="674.6" y="281" width="14.7" height="1.5" fill="#efefef"/>
<rect x="674.6" y="286.6" width="14.7" height="1.5" fill="#efefef"/>
<rect x="677.2" y="284" width="9.3" height="1.1" fill="#9a9a9a"/>
<rect x="662" y="302" width="7" height="11.6" rx="1.2" fill="#fff" stroke="#231f20" stroke-width="1"/>
<rect x="693.9" y="302" width="7" height="11.6" rx="1.2" fill="#fff" stroke="#231f20" stroke-width="1"/>
<polygon points="670.4,299.4 692.3,299.4 694.5,301.6 694.5,315 693.3,316.2 669.4,316.2 668.2,315 668.2,301.6" fill="#fff" stroke="#231f20" stroke-width="1.2"/>
<polygon points="671.16,301.3 691.54,301.3 692.6,302.36 692.6,313.7 692,314.3 670.7,314.3 670.1,313.7 670.1,302.36" fill="#fff" stroke="#231f20" stroke-width="0.8"/>
<rect x="662" y="325.8" width="7" height="11.6" rx="1.2" fill="#fff" stroke="#231f20" stroke-width="1"/>
<rect x="693.9" y="325.8" width="7" height="11.6" rx="1.2" fill="#fff" stroke="#231f20" stroke-width="1"/>
<polygon points="670.4,323.2 692.3,323.2 694.5,325.4 694.5,338.8 693.3,340 669.4,340 668.2,338.8 668.2,325.4" fill="#fff" stroke="#231f20" stroke-width="1.2"/>
<polygon points="671.16,325.1 691.54,325.1 692.6,326.16 692.6,337.5 692,338.1 670.7,338.1 670.1,337.5 670.1,326.16" fill="#2b2728" stroke="#231f20" stroke-width="1.8"/>
<rect x="674.6" y="328" width="14.7" height="1.5" fill="#efefef"/>
<rect x="674.6" y="333.6" width="14.7" height="1.5" fill="#efefef"/>
<rect x="677.2" y="331" width="9.3" height="1.1" fill="#9a9a9a"/>
<rect x="662" y="349" width="7" height="11.6" rx="1.2" fill="#fff" stroke="#231f20" stroke-width="1"/>
<rect x="693.9" y="349" width="7" height="11.6" rx="1.2" fill="#fff" stroke="#231f20" stroke-width="1"/>
<polygon points="670.4,346.4 692.3,346.4 694.5,348.6 694.5,362 693.3,363.2 669.4,363.2 668.2,362 668.2,348.6" fill="#fff" stroke="#231f20" stroke-width="1.2"/>
<polygon points="671.16,348.3 691.54,348.3 692.6,349.36 692.6,360.7 692,361.3 670.7,361.3 670.1,360.7 670.1,349.36" fill="#fff" stroke="#231f20" stroke-width="0.8"/>
<path d="M595.3,376.2 L595.3,360.5 Q595.3,357.4 598.4,357.4 L647.8,357.4 Q650.9,357.4 650.9,360.5 L650.9,376.2" fill="#fff" stroke="#231f20" stroke-width="1.6"/>
<circle cx="604.9" cy="367.4" r="3.2" fill="#fff" stroke="#231f20" stroke-width="1.2"/>
<circle cx="623.1" cy="367.4" r="3.2" fill="#fff" stroke="#231f20" stroke-width="1.2"/>
<circle cx="640.9" cy="367.4" r="3.2" fill="#fff" stroke="#231f20" stroke-width="1.2"/>
<rect x="749.6" y="67.4" width="135" height="309" fill="#fff" stroke="#231f20" stroke-width="1.2"/>
<line x1="878.5" y1="67.4" x2="878.5" y2="376.4" stroke="#231f20" stroke-width="1.2"/>
<path d="M807,67.4 L807,142.1 L878.5,142.1" fill="none" stroke="#231f20" stroke-width="1.2"/>
<circle cx="768.3" cy="160.9" r="2.2" fill="#555" stroke="#231f20" stroke-width="1.0"/>
<rect x="816.7" y="106.7" width="10.2" height="9.6" rx="2.4" fill="#fff" stroke="#231f20" stroke-width="1.9"/>
<rect x="832.2" y="106.7" width="10.2" height="9.6" rx="2.4" fill="#fff" stroke="#231f20" stroke-width="1.9"/>
<rect x="847.5" y="106.7" width="10.2" height="9.6" rx="2.4" fill="#fff" stroke="#231f20" stroke-width="1.9"/>
<rect x="816.7" y="126.2" width="10.2" height="9.6" rx="2.4" fill="#fff" stroke="#231f20" stroke-width="1.9"/>
<rect x="832.2" y="126.2" width="10.2" height="9.6" rx="2.4" fill="#fff" stroke="#231f20" stroke-width="1.9"/>
<rect x="863.4" y="122.8" width="9" height="16.2" rx="1.5" fill="#fff" stroke="#231f20" stroke-width="1.8"/>
<rect x="865.7" y="125.8" width="4.4" height="10.2" rx="1.6" fill="#fff" stroke="#231f20" stroke-width="1.2"/>
<line x1="867.9" y1="127.3" x2="867.9" y2="134.5" stroke="#231f20" stroke-width="1"/>
<rect x="844.2" y="144.3" width="31.8" height="64.4" rx="1.5" fill="#fff" stroke="#231f20" stroke-width="1.2"/>
<rect x="846.4" y="145.8" width="27.4" height="61.4" rx="1" fill="#fff" stroke="#555" stroke-width="0.8"/>
<rect x="846.8" y="146.3" width="2.6" height="60.4" fill="#9a9a9a"/>
<rect x="850.7" y="147.1" width="15.5" height="26" rx="0.4" fill="#fff" stroke="#231f20" stroke-width="1.5"/>
<rect x="852.7" y="149.3" width="11.5" height="21.6" rx="0.5" fill="#3a3637" stroke="#231f20" stroke-width="1"/>
<rect x="858.2" y="152.1" width="4.5" height="14" fill="#fff"/>
<line x1="853.7" y1="152.1" x2="857.7" y2="152.1" stroke="#ddd" stroke-width="0.7"/>
<line x1="853.7" y1="154.7" x2="857.7" y2="154.7" stroke="#ddd" stroke-width="0.7"/>
<line x1="853.7" y1="157.3" x2="857.7" y2="157.3" stroke="#ddd" stroke-width="0.7"/>
<line x1="853.7" y1="159.9" x2="857.7" y2="159.9" stroke="#ddd" stroke-width="0.7"/>
<line x1="853.7" y1="162.5" x2="857.7" y2="162.5" stroke="#ddd" stroke-width="0.7"/>
<rect x="866.8" y="147.3" width="4.2" height="7" rx="0.5" fill="#fff" stroke="#231f20" stroke-width="0.9"/>
<rect x="866.8" y="165.9" width="4.2" height="7" rx="0.5" fill="#fff" stroke="#231f20" stroke-width="0.9"/>
<rect x="867.6" y="155.7" width="2.4" height="8.8" rx="0.4" fill="#fff" stroke="#231f20" stroke-width="0.8"/>
<rect x="850.7" y="178.9" width="15.5" height="26" rx="0.4" fill="#fff" stroke="#231f20" stroke-width="1.5"/>
<rect x="852.7" y="181.1" width="11.5" height="21.6" rx="0.5" fill="#3a3637" stroke="#231f20" stroke-width="1"/>
<rect x="858.2" y="183.9" width="4.5" height="14" fill="#fff"/>
<line x1="853.7" y1="183.9" x2="857.7" y2="183.9" stroke="#ddd" stroke-width="0.7"/>
<line x1="853.7" y1="186.5" x2="857.7" y2="186.5" stroke="#ddd" stroke-width="0.7"/>
<line x1="853.7" y1="189.1" x2="857.7" y2="189.1" stroke="#ddd" stroke-width="0.7"/>
<line x1="853.7" y1="191.7" x2="857.7" y2="191.7" stroke="#ddd" stroke-width="0.7"/>
<line x1="853.7" y1="194.3" x2="857.7" y2="194.3" stroke="#ddd" stroke-width="0.7"/>
<rect x="866.8" y="179.1" width="4.2" height="7" rx="0.5" fill="#fff" stroke="#231f20" stroke-width="0.9"/>
<rect x="866.8" y="197.7" width="4.2" height="7" rx="0.5" fill="#fff" stroke="#231f20" stroke-width="0.9"/>
<rect x="867.6" y="187.5" width="2.4" height="8.8" rx="0.4" fill="#fff" stroke="#231f20" stroke-width="0.8"/>
<rect x="849" y="211.4" width="27.6" height="107.6" rx="1.2" fill="#fff" stroke="#555" stroke-width="0.9"/>
<rect x="853.4" y="214.6" width="20" height="103.4" rx="1.2" fill="#fff" stroke="#231f20" stroke-width="1.3"/>
<rect x="855.6" y="216.6" width="15.6" height="99.4" rx="0.8" fill="#fff" stroke="#666" stroke-width="0.8"/>
<circle cx="863.4" cy="222" r="3.0" fill="#fff" stroke="#231f20" stroke-width="1.1"/>
<line x1="860.4" y1="222" x2="866.4" y2="222" stroke="#231f20" stroke-width="1"/>
<line x1="856.6" y1="227.6" x2="870.2" y2="227.6" stroke="#444" stroke-width="1.8"/>
<circle cx="863.4" cy="310.6" r="3.0" fill="#fff" stroke="#231f20" stroke-width="1.1"/>
<line x1="860.4" y1="310.6" x2="866.4" y2="310.6" stroke="#231f20" stroke-width="1"/>
<line x1="856.6" y1="305" x2="870.2" y2="305" stroke="#444" stroke-width="1.8"/>
<path d="M857.2,235.2 Q857.2,232.2 860,232.2 L867.7,234.7 Q869.2,235.2 869.2,238.2 L869.2,294.4 Q869.2,297.4 867.7,297.9 L860,300.4 Q857.2,300.4 857.2,297.4 Z" fill="#fff" stroke="#231f20" stroke-width="1.4"/>
<rect x="860.2" y="236.2" width="5.6" height="60.2" rx="1.5" fill="#bbb" stroke="#231f20" stroke-width="0.9"/>
<line x1="861.8" y1="238.2" x2="861.8" y2="294.4" stroke="#231f20" stroke-width="2.0" stroke-dasharray="0.7 0.8"/>
<line x1="864.4" y1="238.6" x2="864.4" y2="294.4" stroke="#231f20" stroke-width="1.6" stroke-dasharray="0.7 0.8"/>
<rect x="768.4" y="171.8" width="22.8" height="133.2" rx="0.6" fill="#fff" stroke="#444" stroke-width="1"/>
<rect x="770.6" y="173.8" width="16.6" height="129.2" rx="0.4" fill="#fff" stroke="#231f20" stroke-width="1.3"/>
<line x1="789" y1="172.8" x2="789" y2="304" stroke="#666" stroke-width="0.7"/>
<rect x="779.8" y="178.2" width="1.7" height="4.4" rx="0.6" fill="#231f20"/>
<rect x="779.8" y="192.788" width="1.7" height="4.4" rx="0.6" fill="#231f20"/>
<rect x="779.8" y="207.375" width="1.7" height="4.4" rx="0.6" fill="#231f20"/>
<rect x="779.8" y="221.963" width="1.7" height="4.4" rx="0.6" fill="#231f20"/>
<rect x="779.8" y="236.55" width="1.7" height="4.4" rx="0.6" fill="#231f20"/>
<rect x="779.8" y="251.138" width="1.7" height="4.4" rx="0.6" fill="#231f20"/>
<rect x="779.8" y="265.725" width="1.7" height="4.4" rx="0.6" fill="#231f20"/>
<rect x="779.8" y="280.312" width="1.7" height="4.4" rx="0.6" fill="#231f20"/>
<rect x="779.8" y="294.9" width="1.7" height="4.4" rx="0.6" fill="#231f20"/>
<line x1="772.6" y1="177.8" x2="772.6" y2="217.754" stroke="#231f20" stroke-width="1.5" stroke-dasharray="1.2 1.2"/>
<line x1="772.6" y1="265.04" x2="772.6" y2="300" stroke="#231f20" stroke-width="1.5" stroke-dasharray="1.2 1.2"/>
<circle cx="772.8" cy="176.4" r="1.1" fill="#fff" stroke="#231f20" stroke-width="0.7"/>
<circle cx="772.8" cy="300.4" r="1.1" fill="#fff" stroke="#231f20" stroke-width="0.7"/>
<path d="M772,216.422 L767.2,216.422 L767.2,263.708 L772,263.708" fill="none" stroke="#231f20" stroke-width="1.9"/>
<rect x="768.4" y="217.422" width="2.6" height="45.286" fill="#fff"/>
<line x1="771.3" y1="216.422" x2="771.3" y2="263.708" stroke="#231f20" stroke-width="1"/>
<rect x="786.6" y="191.444" width="5.2" height="6" rx="1" fill="#fff" stroke="#231f20" stroke-width="1.2"/>
<rect x="788.3" y="192.844" width="1.7" height="3.2" fill="#ccc" stroke="#231f20" stroke-width="0.6"/>
<rect x="786.6" y="278.69" width="5.2" height="6" rx="1" fill="#fff" stroke="#231f20" stroke-width="1.2"/>
<rect x="788.3" y="280.09" width="1.7" height="3.2" fill="#ccc" stroke="#231f20" stroke-width="0.6"/>
<rect x="768.4" y="306.6" width="22.8" height="45" rx="0.8" fill="#fff" stroke="#333" stroke-width="1.1"/>
<path d="M775.2,309.2 L787,309.2 L787,343.2 L789.8,343.2 L789.8,347.2 L784,347.2 L784,349.4 L775.8,349.4 L775.8,345.2 L771.8,341.8 L771.8,314.8 L775.2,312.2 Z" fill="#fff" stroke="#231f20" stroke-width="1.4"/>
<line x1="785.4" y1="310.2" x2="785.4" y2="342.8" stroke="#8a8a8a" stroke-width="1.6"/>
<line x1="777.2" y1="311.4" x2="784" y2="311.4" stroke="#555" stroke-width="0.7"/>
<rect x="779.8" y="314" width="1.7" height="4.4" rx="0.6" fill="#231f20"/>
<rect x="779.8" y="327.8" width="1.7" height="4.4" rx="0.6" fill="#231f20"/>
<rect x="779.8" y="341.6" width="1.7" height="4.4" rx="0.6" fill="#231f20"/>
<path d="M771,317.85 L767.5,319.65 L767.5,339 L771,340.8" fill="none" stroke="#231f20" stroke-width="2"/>
<rect x="787.6" y="339.2" width="3.4" height="4.2" fill="#231f20"/>
<rect x="858.4" y="333.4" width="10.6" height="6" rx="1.2" fill="#fff" stroke="#231f20" stroke-width="1"/>
<rect x="858.4" y="365" width="10.6" height="6" rx="1.2" fill="#fff" stroke="#231f20" stroke-width="1"/>
<polygon points="857.4,338.2 870,338.2 873,341.2 873,363.2 870,366.2 857.4,366.2 854.4,363.2 854.4,341.2" fill="#fff" stroke="#231f20" stroke-width="1.3"/>
<polygon points="858,340.2 869.4,340.2 871,341.8 871,362.6 869.4,364.2 858,364.2 856.4,362.6 856.4,341.8" fill="#fff" stroke="#231f20" stroke-width="2.3"/>
<rect x="859.6" y="343.7" width="8.2" height="17" rx="1" fill="#fff" stroke="#231f20" stroke-width="1"/>
<line x1="863.7" y1="345.2" x2="863.7" y2="359.2" stroke="#231f20" stroke-width="3.6" stroke-dasharray="1.6 0.9"/>
<path d="M855.9,358.7 L871.5,358.7 L869.5,364.7 L857.9,364.7 Z" fill="#231f20"/>
<line x1="871" y1="343.2" x2="871" y2="360.2" stroke="#231f20" stroke-width="2" stroke-dasharray="0.9 1"/>
<path d="M800.7,376.4 L800.7,359.8 Q800.7,356.7 803.8,356.7 L837.4,356.7 Q840.5,356.7 840.5,359.8 L840.5,376.4" fill="#fff" stroke="#231f20" stroke-width="1.6"/>
<circle cx="811.8" cy="367.2" r="3.2" fill="#fff" stroke="#231f20" stroke-width="1.2"/>
<circle cx="829" cy="367.2" r="3.2" fill="#fff" stroke="#231f20" stroke-width="1.2"/>
<defs><filter id="bl2" x="-5%" y="-5%" width="110%" height="110%"><feGaussianBlur stdDeviation="0.5"/></filter></defs>
<g filter="url(#bl2)">
<rect x="978.4" y="199.8" width="198.4" height="176" rx="1" fill="#4dbb63" />
<rect x="978.4" y="196.2" width="5" height="182" rx="1" fill="#66cc82" />
<rect x="1170.8" y="195.8" width="6" height="180.4" rx="1" fill="#5fc97a" />
<rect x="981.8" y="200" width="1.6" height="176" rx="0" fill="#3f9f58" />
<rect x="983.2" y="199.8" width="187.8" height="9.4" rx="0" fill="#5cc672" />
<rect x="983.2" y="199.8" width="187.8" height="1.8" rx="0" fill="#86dd98" />
<rect x="983.2" y="207.6" width="187.8" height="1.8" rx="0" fill="#3b9a52" />
<rect x="983.2" y="362.8" width="187.8" height="12.8" rx="0" fill="#50bc67" />
<rect x="983.2" y="362.8" width="187.8" height="3" rx="0" fill="#3c9d54" />
<rect x="983.2" y="373.4" width="187.8" height="2.2" rx="0" fill="#6ad081" />
<rect x="983.4" y="209.2" width="187.4" height="153.6" rx="0" fill="#159c41" />
<rect x="983.4" y="209.2" width="187.4" height="41" rx="0" fill="#0b5530" />
<rect x="983.4" y="326" width="187.4" height="36.8" rx="0" fill="#0d7434" />
<rect x="983.4" y="357.6" width="187.4" height="5.2" rx="0" fill="#09552a" />
<rect x="987.4" y="210.4" width="2.6" height="6.4" rx="0.5" fill="#6f9f88" />
<rect x="986.8" y="214.2" width="3.8" height="2.6" rx="0.8" fill="#a9c9b6" />
<rect x="992.9" y="210.4" width="2.6" height="6.4" rx="0.5" fill="#6f9f88" />
<rect x="992.3" y="214.2" width="3.8" height="2.6" rx="0.8" fill="#a9c9b6" />
<rect x="998.4" y="210.4" width="2.6" height="6.4" rx="0.5" fill="#6f9f88" />
<rect x="997.8" y="214.2" width="3.8" height="2.6" rx="0.8" fill="#a9c9b6" />
<rect x="1003.9" y="210.4" width="2.6" height="6.4" rx="0.5" fill="#6f9f88" />
<rect x="1003.3" y="214.2" width="3.8" height="2.6" rx="0.8" fill="#a9c9b6" />
<rect x="985.2" y="216.8" width="22.27" height="14.8" rx="0.8" fill="#88dc8e" />
<rect x="985.2" y="216.8" width="22.27" height="2.4" rx="0.8" fill="#9ce7a2" />
<rect x="985.2" y="226" width="22.27" height="5.6" rx="0.8" fill="#8fe493" />
<ellipse cx="988.4" cy="222.6" rx="2.1" ry="1.5" fill="#5e9270"/>
<ellipse cx="988.4" cy="222.3" rx="1.2" ry="0.8" fill="#7fb08c"/>
<ellipse cx="993.85" cy="222.6" rx="2.1" ry="1.5" fill="#5e9270"/>
<ellipse cx="993.85" cy="222.3" rx="1.2" ry="0.8" fill="#7fb08c"/>
<ellipse cx="999.3" cy="222.6" rx="2.1" ry="1.5" fill="#5e9270"/>
<ellipse cx="999.3" cy="222.3" rx="1.2" ry="0.8" fill="#7fb08c"/>
<ellipse cx="1004.75" cy="222.6" rx="2.1" ry="1.5" fill="#5e9270"/>
<ellipse cx="1004.75" cy="222.3" rx="1.2" ry="0.8" fill="#7fb08c"/>
<rect x="1011.17" y="210.4" width="2.6" height="6.4" rx="0.5" fill="#6f9f88" />
<rect x="1010.57" y="214.2" width="3.8" height="2.6" rx="0.8" fill="#a9c9b6" />
<rect x="1016.67" y="210.4" width="2.6" height="6.4" rx="0.5" fill="#6f9f88" />
<rect x="1016.07" y="214.2" width="3.8" height="2.6" rx="0.8" fill="#a9c9b6" />
<rect x="1022.17" y="210.4" width="2.6" height="6.4" rx="0.5" fill="#6f9f88" />
<rect x="1021.57" y="214.2" width="3.8" height="2.6" rx="0.8" fill="#a9c9b6" />
<rect x="1027.67" y="210.4" width="2.6" height="6.4" rx="0.5" fill="#6f9f88" />
<rect x="1027.07" y="214.2" width="3.8" height="2.6" rx="0.8" fill="#a9c9b6" />
<rect x="1008.97" y="216.8" width="22.27" height="14.8" rx="0.8" fill="#88dc8e" />
<rect x="1008.97" y="216.8" width="22.27" height="2.4" rx="0.8" fill="#9ce7a2" />
<rect x="1008.97" y="226" width="22.27" height="5.6" rx="0.8" fill="#8fe493" />
<ellipse cx="1012.17" cy="222.6" rx="2.1" ry="1.5" fill="#5e9270"/>
<ellipse cx="1012.17" cy="222.3" rx="1.2" ry="0.8" fill="#7fb08c"/>
<ellipse cx="1017.62" cy="222.6" rx="2.1" ry="1.5" fill="#5e9270"/>
<ellipse cx="1017.62" cy="222.3" rx="1.2" ry="0.8" fill="#7fb08c"/>
<ellipse cx="1023.07" cy="222.6" rx="2.1" ry="1.5" fill="#5e9270"/>
<ellipse cx="1023.07" cy="222.3" rx="1.2" ry="0.8" fill="#7fb08c"/>
<ellipse cx="1028.52" cy="222.6" rx="2.1" ry="1.5" fill="#5e9270"/>
<ellipse cx="1028.52" cy="222.3" rx="1.2" ry="0.8" fill="#7fb08c"/>
<rect x="1034.94" y="210.4" width="2.6" height="6.4" rx="0.5" fill="#6f9f88" />
<rect x="1034.34" y="214.2" width="3.8" height="2.6" rx="0.8" fill="#a9c9b6" />
<rect x="1040.44" y="210.4" width="2.6" height="6.4" rx="0.5" fill="#6f9f88" />
<rect x="1039.84" y="214.2" width="3.8" height="2.6" rx="0.8" fill="#a9c9b6" />
<rect x="1045.94" y="210.4" width="2.6" height="6.4" rx="0.5" fill="#6f9f88" />
<rect x="1045.34" y="214.2" width="3.8" height="2.6" rx="0.8" fill="#a9c9b6" />
<rect x="1051.44" y="210.4" width="2.6" height="6.4" rx="0.5" fill="#6f9f88" />
<rect x="1050.84" y="214.2" width="3.8" height="2.6" rx="0.8" fill="#a9c9b6" />
<rect x="1032.74" y="216.8" width="22.27" height="14.8" rx="0.8" fill="#88dc8e" />
<rect x="1032.74" y="216.8" width="22.27" height="2.4" rx="0.8" fill="#9ce7a2" />
<rect x="1032.74" y="226" width="22.27" height="5.6" rx="0.8" fill="#8fe493" />
<ellipse cx="1035.94" cy="222.6" rx="2.1" ry="1.5" fill="#5e9270"/>
<ellipse cx="1035.94" cy="222.3" rx="1.2" ry="0.8" fill="#7fb08c"/>
<ellipse cx="1041.39" cy="222.6" rx="2.1" ry="1.5" fill="#5e9270"/>
<ellipse cx="1041.39" cy="222.3" rx="1.2" ry="0.8" fill="#7fb08c"/>
<ellipse cx="1046.84" cy="222.6" rx="2.1" ry="1.5" fill="#5e9270"/>
<ellipse cx="1046.84" cy="222.3" rx="1.2" ry="0.8" fill="#7fb08c"/>
<ellipse cx="1052.29" cy="222.6" rx="2.1" ry="1.5" fill="#5e9270"/>
<ellipse cx="1052.29" cy="222.3" rx="1.2" ry="0.8" fill="#7fb08c"/>
<rect x="1058.71" y="210.4" width="2.6" height="6.4" rx="0.5" fill="#6f9f88" />
<rect x="1058.11" y="214.2" width="3.8" height="2.6" rx="0.8" fill="#a9c9b6" />
<rect x="1064.21" y="210.4" width="2.6" height="6.4" rx="0.5" fill="#6f9f88" />
<rect x="1063.61" y="214.2" width="3.8" height="2.6" rx="0.8" fill="#a9c9b6" />
<rect x="1069.71" y="210.4" width="2.6" height="6.4" rx="0.5" fill="#6f9f88" />
<rect x="1069.11" y="214.2" width="3.8" height="2.6" rx="0.8" fill="#a9c9b6" />
<rect x="1075.21" y="210.4" width="2.6" height="6.4" rx="0.5" fill="#6f9f88" />
<rect x="1074.61" y="214.2" width="3.8" height="2.6" rx="0.8" fill="#a9c9b6" />
<rect x="1056.51" y="216.8" width="22.27" height="14.8" rx="0.8" fill="#88dc8e" />
<rect x="1056.51" y="216.8" width="22.27" height="2.4" rx="0.8" fill="#9ce7a2" />
<rect x="1056.51" y="226" width="22.27" height="5.6" rx="0.8" fill="#8fe493" />
<ellipse cx="1059.71" cy="222.6" rx="2.1" ry="1.5" fill="#5e9270"/>
<ellipse cx="1059.71" cy="222.3" rx="1.2" ry="0.8" fill="#7fb08c"/>
<ellipse cx="1065.16" cy="222.6" rx="2.1" ry="1.5" fill="#5e9270"/>
<ellipse cx="1065.16" cy="222.3" rx="1.2" ry="0.8" fill="#7fb08c"/>
<ellipse cx="1070.61" cy="222.6" rx="2.1" ry="1.5" fill="#5e9270"/>
<ellipse cx="1070.61" cy="222.3" rx="1.2" ry="0.8" fill="#7fb08c"/>
<ellipse cx="1076.06" cy="222.6" rx="2.1" ry="1.5" fill="#5e9270"/>
<ellipse cx="1076.06" cy="222.3" rx="1.2" ry="0.8" fill="#7fb08c"/>
<rect x="1082.48" y="210.4" width="2.6" height="6.4" rx="0.5" fill="#6f9f88" />
<rect x="1081.88" y="214.2" width="3.8" height="2.6" rx="0.8" fill="#a9c9b6" />
<rect x="1087.98" y="210.4" width="2.6" height="6.4" rx="0.5" fill="#6f9f88" />
<rect x="1087.38" y="214.2" width="3.8" height="2.6" rx="0.8" fill="#a9c9b6" />
<rect x="1093.48" y="210.4" width="2.6" height="6.4" rx="0.5" fill="#6f9f88" />
<rect x="1092.88" y="214.2" width="3.8" height="2.6" rx="0.8" fill="#a9c9b6" />
<rect x="1098.98" y="210.4" width="2.6" height="6.4" rx="0.5" fill="#6f9f88" />
<rect x="1098.38" y="214.2" width="3.8" height="2.6" rx="0.8" fill="#a9c9b6" />
<rect x="1080.28" y="216.8" width="22.27" height="14.8" rx="0.8" fill="#88dc8e" />
<rect x="1080.28" y="216.8" width="22.27" height="2.4" rx="0.8" fill="#9ce7a2" />
<rect x="1080.28" y="226" width="22.27" height="5.6" rx="0.8" fill="#8fe493" />
<ellipse cx="1083.48" cy="222.6" rx="2.1" ry="1.5" fill="#5e9270"/>
<ellipse cx="1083.48" cy="222.3" rx="1.2" ry="0.8" fill="#7fb08c"/>
<ellipse cx="1088.93" cy="222.6" rx="2.1" ry="1.5" fill="#5e9270"/>
<ellipse cx="1088.93" cy="222.3" rx="1.2" ry="0.8" fill="#7fb08c"/>
<ellipse cx="1094.38" cy="222.6" rx="2.1" ry="1.5" fill="#5e9270"/>
<ellipse cx="1094.38" cy="222.3" rx="1.2" ry="0.8" fill="#7fb08c"/>
<ellipse cx="1099.83" cy="222.6" rx="2.1" ry="1.5" fill="#5e9270"/>
<ellipse cx="1099.83" cy="222.3" rx="1.2" ry="0.8" fill="#7fb08c"/>
<rect x="1106.25" y="210.4" width="2.6" height="6.4" rx="0.5" fill="#6f9f88" />
<rect x="1105.65" y="214.2" width="3.8" height="2.6" rx="0.8" fill="#a9c9b6" />
<rect x="1111.75" y="210.4" width="2.6" height="6.4" rx="0.5" fill="#6f9f88" />
<rect x="1111.15" y="214.2" width="3.8" height="2.6" rx="0.8" fill="#a9c9b6" />
<rect x="1117.25" y="210.4" width="2.6" height="6.4" rx="0.5" fill="#6f9f88" />
<rect x="1116.65" y="214.2" width="3.8" height="2.6" rx="0.8" fill="#a9c9b6" />
<rect x="1122.75" y="210.4" width="2.6" height="6.4" rx="0.5" fill="#6f9f88" />
<rect x="1122.15" y="214.2" width="3.8" height="2.6" rx="0.8" fill="#a9c9b6" />
<rect x="1104.05" y="216.8" width="22.27" height="14.8" rx="0.8" fill="#88dc8e" />
<rect x="1104.05" y="216.8" width="22.27" height="2.4" rx="0.8" fill="#9ce7a2" />
<rect x="1104.05" y="226" width="22.27" height="5.6" rx="0.8" fill="#8fe493" />
<ellipse cx="1107.25" cy="222.6" rx="2.1" ry="1.5" fill="#5e9270"/>
<ellipse cx="1107.25" cy="222.3" rx="1.2" ry="0.8" fill="#7fb08c"/>
<ellipse cx="1112.7" cy="222.6" rx="2.1" ry="1.5" fill="#5e9270"/>
<ellipse cx="1112.7" cy="222.3" rx="1.2" ry="0.8" fill="#7fb08c"/>
<ellipse cx="1118.15" cy="222.6" rx="2.1" ry="1.5" fill="#5e9270"/>
<ellipse cx="1118.15" cy="222.3" rx="1.2" ry="0.8" fill="#7fb08c"/>
<ellipse cx="1123.6" cy="222.6" rx="2.1" ry="1.5" fill="#5e9270"/>
<ellipse cx="1123.6" cy="222.3" rx="1.2" ry="0.8" fill="#7fb08c"/>
<rect x="1130.02" y="210.4" width="2.6" height="6.4" rx="0.5" fill="#6f9f88" />
<rect x="1129.42" y="214.2" width="3.8" height="2.6" rx="0.8" fill="#a9c9b6" />
<rect x="1135.52" y="210.4" width="2.6" height="6.4" rx="0.5" fill="#6f9f88" />
<rect x="1134.92" y="214.2" width="3.8" height="2.6" rx="0.8" fill="#a9c9b6" />
<rect x="1141.02" y="210.4" width="2.6" height="6.4" rx="0.5" fill="#6f9f88" />
<rect x="1140.42" y="214.2" width="3.8" height="2.6" rx="0.8" fill="#a9c9b6" />
<rect x="1146.52" y="210.4" width="2.6" height="6.4" rx="0.5" fill="#6f9f88" />
<rect x="1145.92" y="214.2" width="3.8" height="2.6" rx="0.8" fill="#a9c9b6" />
<rect x="1127.82" y="216.8" width="22.27" height="14.8" rx="0.8" fill="#88dc8e" />
<rect x="1127.82" y="216.8" width="22.27" height="2.4" rx="0.8" fill="#9ce7a2" />
<rect x="1127.82" y="226" width="22.27" height="5.6" rx="0.8" fill="#8fe493" />
<ellipse cx="1131.02" cy="222.6" rx="2.1" ry="1.5" fill="#5e9270"/>
<ellipse cx="1131.02" cy="222.3" rx="1.2" ry="0.8" fill="#7fb08c"/>
<ellipse cx="1136.47" cy="222.6" rx="2.1" ry="1.5" fill="#5e9270"/>
<ellipse cx="1136.47" cy="222.3" rx="1.2" ry="0.8" fill="#7fb08c"/>
<ellipse cx="1141.92" cy="222.6" rx="2.1" ry="1.5" fill="#5e9270"/>
<ellipse cx="1141.92" cy="222.3" rx="1.2" ry="0.8" fill="#7fb08c"/>
<ellipse cx="1147.37" cy="222.6" rx="2.1" ry="1.5" fill="#5e9270"/>
<ellipse cx="1147.37" cy="222.3" rx="1.2" ry="0.8" fill="#7fb08c"/>
<rect x="1153.79" y="210.4" width="2.6" height="6.4" rx="0.5" fill="#6f9f88" />
<rect x="1153.19" y="214.2" width="3.8" height="2.6" rx="0.8" fill="#a9c9b6" />
<rect x="1159.29" y="210.4" width="2.6" height="6.4" rx="0.5" fill="#6f9f88" />
<rect x="1158.69" y="214.2" width="3.8" height="2.6" rx="0.8" fill="#a9c9b6" />
<rect x="1164.79" y="210.4" width="2.6" height="6.4" rx="0.5" fill="#6f9f88" />
<rect x="1164.19" y="214.2" width="3.8" height="2.6" rx="0.8" fill="#a9c9b6" />
<rect x="1170.29" y="210.4" width="2.6" height="6.4" rx="0.5" fill="#6f9f88" />
<rect x="1169.69" y="214.2" width="3.8" height="2.6" rx="0.8" fill="#a9c9b6" />
<rect x="1151.59" y="216.8" width="22.27" height="14.8" rx="0.8" fill="#88dc8e" />
<rect x="1151.59" y="216.8" width="22.27" height="2.4" rx="0.8" fill="#9ce7a2" />
<rect x="1151.59" y="226" width="22.27" height="5.6" rx="0.8" fill="#8fe493" />
<ellipse cx="1154.79" cy="222.6" rx="2.1" ry="1.5" fill="#5e9270"/>
<ellipse cx="1154.79" cy="222.3" rx="1.2" ry="0.8" fill="#7fb08c"/>
<ellipse cx="1160.24" cy="222.6" rx="2.1" ry="1.5" fill="#5e9270"/>
<ellipse cx="1160.24" cy="222.3" rx="1.2" ry="0.8" fill="#7fb08c"/>
<ellipse cx="1165.69" cy="222.6" rx="2.1" ry="1.5" fill="#5e9270"/>
<ellipse cx="1165.69" cy="222.3" rx="1.2" ry="0.8" fill="#7fb08c"/>
<ellipse cx="1171.14" cy="222.6" rx="2.1" ry="1.5" fill="#5e9270"/>
<ellipse cx="1171.14" cy="222.3" rx="1.2" ry="0.8" fill="#7fb08c"/>
<rect x="987.2" y="234.6" width="2.8" height="4.4" rx="0.6" fill="#2b4a3c" />
<rect x="987.5" y="235.6" width="2.2" height="2.2" rx="0.6" fill="#587a68" />
<rect x="987" y="242.6" width="3.2" height="4.6" rx="0.6" fill="#3f5a4a" />
<rect x="987.4" y="243.4" width="2.4" height="3" rx="0.8" fill="#d8d2d0" />
<rect x="992.65" y="234.6" width="2.8" height="4.4" rx="0.6" fill="#2b4a3c" />
<rect x="992.95" y="235.6" width="2.2" height="2.2" rx="0.6" fill="#587a68" />
<rect x="992.45" y="242.6" width="3.2" height="4.6" rx="0.6" fill="#3f5a4a" />
<rect x="992.85" y="243.4" width="2.4" height="3" rx="0.8" fill="#d8d2d0" />
<rect x="998.1" y="234.6" width="2.8" height="4.4" rx="0.6" fill="#2b4a3c" />
<rect x="998.4" y="235.6" width="2.2" height="2.2" rx="0.6" fill="#587a68" />
<rect x="997.9" y="242.6" width="3.2" height="4.6" rx="0.6" fill="#3f5a4a" />
<rect x="998.3" y="243.4" width="2.4" height="3" rx="0.8" fill="#d8d2d0" />
<rect x="1003.55" y="234.6" width="2.8" height="4.4" rx="0.6" fill="#2b4a3c" />
<rect x="1003.85" y="235.6" width="2.2" height="2.2" rx="0.6" fill="#587a68" />
<rect x="1003.35" y="242.6" width="3.2" height="4.6" rx="0.6" fill="#3f5a4a" />
<rect x="1003.75" y="243.4" width="2.4" height="3" rx="0.8" fill="#d8d2d0" />
<rect x="1010.97" y="234.6" width="2.8" height="4.4" rx="0.6" fill="#2b4a3c" />
<rect x="1011.27" y="235.6" width="2.2" height="2.2" rx="0.6" fill="#587a68" />
<rect x="1010.77" y="242.6" width="3.2" height="4.6" rx="0.6" fill="#3f5a4a" />
<rect x="1011.17" y="243.4" width="2.4" height="3" rx="0.8" fill="#d8d2d0" />
<rect x="1016.42" y="234.6" width="2.8" height="4.4" rx="0.6" fill="#2b4a3c" />
<rect x="1016.72" y="235.6" width="2.2" height="2.2" rx="0.6" fill="#587a68" />
<rect x="1016.22" y="242.6" width="3.2" height="4.6" rx="0.6" fill="#3f5a4a" />
<rect x="1016.62" y="243.4" width="2.4" height="3" rx="0.8" fill="#d8d2d0" />
<rect x="1021.87" y="234.6" width="2.8" height="4.4" rx="0.6" fill="#2b4a3c" />
<rect x="1022.17" y="235.6" width="2.2" height="2.2" rx="0.6" fill="#587a68" />
<rect x="1021.67" y="242.6" width="3.2" height="4.6" rx="0.6" fill="#3f5a4a" />
<rect x="1022.07" y="243.4" width="2.4" height="3" rx="0.8" fill="#d8d2d0" />
<rect x="1027.32" y="234.6" width="2.8" height="4.4" rx="0.6" fill="#2b4a3c" />
<rect x="1027.62" y="235.6" width="2.2" height="2.2" rx="0.6" fill="#587a68" />
<rect x="1027.12" y="242.6" width="3.2" height="4.6" rx="0.6" fill="#3f5a4a" />
<rect x="1027.52" y="243.4" width="2.4" height="3" rx="0.8" fill="#d8d2d0" />
<rect x="1034.74" y="234.6" width="2.8" height="4.4" rx="0.6" fill="#2b4a3c" />
<rect x="1035.04" y="235.6" width="2.2" height="2.2" rx="0.6" fill="#587a68" />
<rect x="1034.54" y="242.6" width="3.2" height="4.6" rx="0.6" fill="#3f5a4a" />
<rect x="1034.94" y="243.4" width="2.4" height="3" rx="0.8" fill="#d8d2d0" />
<rect x="1040.19" y="234.6" width="2.8" height="4.4" rx="0.6" fill="#2b4a3c" />
<rect x="1040.49" y="235.6" width="2.2" height="2.2" rx="0.6" fill="#587a68" />
<rect x="1039.99" y="242.6" width="3.2" height="4.6" rx="0.6" fill="#3f5a4a" />
<rect x="1040.39" y="243.4" width="2.4" height="3" rx="0.8" fill="#d8d2d0" />
<rect x="1045.64" y="234.6" width="2.8" height="4.4" rx="0.6" fill="#2b4a3c" />
<rect x="1045.94" y="235.6" width="2.2" height="2.2" rx="0.6" fill="#587a68" />
<rect x="1045.44" y="242.6" width="3.2" height="4.6" rx="0.6" fill="#3f5a4a" />
<rect x="1045.84" y="243.4" width="2.4" height="3" rx="0.8" fill="#d8d2d0" />
<rect x="1051.09" y="234.6" width="2.8" height="4.4" rx="0.6" fill="#2b4a3c" />
<rect x="1051.39" y="235.6" width="2.2" height="2.2" rx="0.6" fill="#587a68" />
<rect x="1050.89" y="242.6" width="3.2" height="4.6" rx="0.6" fill="#3f5a4a" />
<rect x="1051.29" y="243.4" width="2.4" height="3" rx="0.8" fill="#d8d2d0" />
<rect x="1058.51" y="234.6" width="2.8" height="4.4" rx="0.6" fill="#2b4a3c" />
<rect x="1058.81" y="235.6" width="2.2" height="2.2" rx="0.6" fill="#587a68" />
<rect x="1058.31" y="242.6" width="3.2" height="4.6" rx="0.6" fill="#3f5a4a" />
<rect x="1058.71" y="243.4" width="2.4" height="3" rx="0.8" fill="#d8d2d0" />
<rect x="1063.96" y="234.6" width="2.8" height="4.4" rx="0.6" fill="#2b4a3c" />
<rect x="1064.26" y="235.6" width="2.2" height="2.2" rx="0.6" fill="#587a68" />
<rect x="1063.76" y="242.6" width="3.2" height="4.6" rx="0.6" fill="#3f5a4a" />
<rect x="1064.16" y="243.4" width="2.4" height="3" rx="0.8" fill="#d8d2d0" />
<rect x="1069.41" y="234.6" width="2.8" height="4.4" rx="0.6" fill="#2b4a3c" />
<rect x="1069.71" y="235.6" width="2.2" height="2.2" rx="0.6" fill="#587a68" />
<rect x="1069.21" y="242.6" width="3.2" height="4.6" rx="0.6" fill="#3f5a4a" />
<rect x="1069.61" y="243.4" width="2.4" height="3" rx="0.8" fill="#d8d2d0" />
<rect x="1074.86" y="234.6" width="2.8" height="4.4" rx="0.6" fill="#2b4a3c" />
<rect x="1075.16" y="235.6" width="2.2" height="2.2" rx="0.6" fill="#587a68" />
<rect x="1074.66" y="242.6" width="3.2" height="4.6" rx="0.6" fill="#3f5a4a" />
<rect x="1075.06" y="243.4" width="2.4" height="3" rx="0.8" fill="#d8d2d0" />
<rect x="1082.28" y="234.6" width="2.8" height="4.4" rx="0.6" fill="#2b4a3c" />
<rect x="1082.58" y="235.6" width="2.2" height="2.2" rx="0.6" fill="#587a68" />
<rect x="1082.08" y="242.6" width="3.2" height="4.6" rx="0.6" fill="#3f5a4a" />
<rect x="1082.48" y="243.4" width="2.4" height="3" rx="0.8" fill="#d8d2d0" />
<rect x="1087.73" y="234.6" width="2.8" height="4.4" rx="0.6" fill="#2b4a3c" />
<rect x="1088.03" y="235.6" width="2.2" height="2.2" rx="0.6" fill="#587a68" />
<rect x="1087.53" y="242.6" width="3.2" height="4.6" rx="0.6" fill="#3f5a4a" />
<rect x="1087.93" y="243.4" width="2.4" height="3" rx="0.8" fill="#d8d2d0" />
<rect x="1093.18" y="234.6" width="2.8" height="4.4" rx="0.6" fill="#2b4a3c" />
<rect x="1093.48" y="235.6" width="2.2" height="2.2" rx="0.6" fill="#587a68" />
<rect x="1092.98" y="242.6" width="3.2" height="4.6" rx="0.6" fill="#3f5a4a" />
<rect x="1093.38" y="243.4" width="2.4" height="3" rx="0.8" fill="#d8d2d0" />
<rect x="1098.63" y="234.6" width="2.8" height="4.4" rx="0.6" fill="#2b4a3c" />
<rect x="1098.93" y="235.6" width="2.2" height="2.2" rx="0.6" fill="#587a68" />
<rect x="1098.43" y="242.6" width="3.2" height="4.6" rx="0.6" fill="#3f5a4a" />
<rect x="1098.83" y="243.4" width="2.4" height="3" rx="0.8" fill="#d8d2d0" />
<rect x="1106.05" y="234.6" width="2.8" height="4.4" rx="0.6" fill="#2b4a3c" />
<rect x="1106.35" y="235.6" width="2.2" height="2.2" rx="0.6" fill="#587a68" />
<rect x="1105.85" y="242.6" width="3.2" height="4.6" rx="0.6" fill="#3f5a4a" />
<rect x="1106.25" y="243.4" width="2.4" height="3" rx="0.8" fill="#d8d2d0" />
<rect x="1111.5" y="234.6" width="2.8" height="4.4" rx="0.6" fill="#2b4a3c" />
<rect x="1111.8" y="235.6" width="2.2" height="2.2" rx="0.6" fill="#587a68" />
<rect x="1111.3" y="242.6" width="3.2" height="4.6" rx="0.6" fill="#3f5a4a" />
<rect x="1111.7" y="243.4" width="2.4" height="3" rx="0.8" fill="#d8d2d0" />
<rect x="1116.95" y="234.6" width="2.8" height="4.4" rx="0.6" fill="#2b4a3c" />
<rect x="1117.25" y="235.6" width="2.2" height="2.2" rx="0.6" fill="#587a68" />
<rect x="1116.75" y="242.6" width="3.2" height="4.6" rx="0.6" fill="#3f5a4a" />
<rect x="1117.15" y="243.4" width="2.4" height="3" rx="0.8" fill="#d8d2d0" />
<rect x="1122.4" y="234.6" width="2.8" height="4.4" rx="0.6" fill="#2b4a3c" />
<rect x="1122.7" y="235.6" width="2.2" height="2.2" rx="0.6" fill="#587a68" />
<rect x="1122.2" y="242.6" width="3.2" height="4.6" rx="0.6" fill="#3f5a4a" />
<rect x="1122.6" y="243.4" width="2.4" height="3" rx="0.8" fill="#d8d2d0" />
<rect x="1129.82" y="234.6" width="2.8" height="4.4" rx="0.6" fill="#2b4a3c" />
<rect x="1130.12" y="235.6" width="2.2" height="2.2" rx="0.6" fill="#587a68" />
<rect x="1129.62" y="242.6" width="3.2" height="4.6" rx="0.6" fill="#3f5a4a" />
<rect x="1130.02" y="243.4" width="2.4" height="3" rx="0.8" fill="#d8d2d0" />
<rect x="1135.27" y="234.6" width="2.8" height="4.4" rx="0.6" fill="#2b4a3c" />
<rect x="1135.57" y="235.6" width="2.2" height="2.2" rx="0.6" fill="#587a68" />
<rect x="1135.07" y="242.6" width="3.2" height="4.6" rx="0.6" fill="#3f5a4a" />
<rect x="1135.47" y="243.4" width="2.4" height="3" rx="0.8" fill="#d8d2d0" />
<rect x="1140.72" y="234.6" width="2.8" height="4.4" rx="0.6" fill="#2b4a3c" />
<rect x="1141.02" y="235.6" width="2.2" height="2.2" rx="0.6" fill="#587a68" />
<rect x="1140.52" y="242.6" width="3.2" height="4.6" rx="0.6" fill="#3f5a4a" />
<rect x="1140.92" y="243.4" width="2.4" height="3" rx="0.8" fill="#d8d2d0" />
<rect x="1146.17" y="234.6" width="2.8" height="4.4" rx="0.6" fill="#2b4a3c" />
<rect x="1146.47" y="235.6" width="2.2" height="2.2" rx="0.6" fill="#587a68" />
<rect x="1145.97" y="242.6" width="3.2" height="4.6" rx="0.6" fill="#3f5a4a" />
<rect x="1146.37" y="243.4" width="2.4" height="3" rx="0.8" fill="#d8d2d0" />
<rect x="1153.59" y="234.6" width="2.8" height="4.4" rx="0.6" fill="#2b4a3c" />
<rect x="1153.89" y="235.6" width="2.2" height="2.2" rx="0.6" fill="#587a68" />
<rect x="1153.39" y="242.6" width="3.2" height="4.6" rx="0.6" fill="#3f5a4a" />
<rect x="1153.79" y="243.4" width="2.4" height="3" rx="0.8" fill="#d8d2d0" />
<rect x="1159.04" y="234.6" width="2.8" height="4.4" rx="0.6" fill="#2b4a3c" />
<rect x="1159.34" y="235.6" width="2.2" height="2.2" rx="0.6" fill="#587a68" />
<rect x="1158.84" y="242.6" width="3.2" height="4.6" rx="0.6" fill="#3f5a4a" />
<rect x="1159.24" y="243.4" width="2.4" height="3" rx="0.8" fill="#d8d2d0" />
<rect x="1164.49" y="234.6" width="2.8" height="4.4" rx="0.6" fill="#2b4a3c" />
<rect x="1164.79" y="235.6" width="2.2" height="2.2" rx="0.6" fill="#587a68" />
<rect x="1164.29" y="242.6" width="3.2" height="4.6" rx="0.6" fill="#3f5a4a" />
<rect x="1164.69" y="243.4" width="2.4" height="3" rx="0.8" fill="#d8d2d0" />
<rect x="1169.94" y="234.6" width="2.8" height="4.4" rx="0.6" fill="#2b4a3c" />
<rect x="1170.24" y="235.6" width="2.2" height="2.2" rx="0.6" fill="#587a68" />
<rect x="1169.74" y="242.6" width="3.2" height="4.6" rx="0.6" fill="#3f5a4a" />
<rect x="1170.14" y="243.4" width="2.4" height="3" rx="0.8" fill="#d8d2d0" />
<path d="M1012,250 h100 l18,14 v60 h-118 l-14,-12 v-50 Z" fill="#18a345"/>
<path d="M1028,266 l30,0 l22,22 l40,0 l0,3 l-42,0 l-22,-22 l-28,0 Z" fill="#0e7f34"/>
<path d="M1030,312 l22,0 l30,-26 l3,0 l0,3 l-30,26 l-25,0 Z" fill="#0e7f34"/>
<path d="M1070,320 l0,-30 l3,0 l0,30 Z" fill="#0e7f34"/>
<path d="M1085,318 l22,-20 l14,0 l0,3 l-12,0 l-22,20 Z" fill="#0d7a31"/>
<path d="M1130,250 l40,0 l0,50 l-14,0 l-26,-24 Z" fill="#0f8637"/>
<rect x="990" y="322" width="176" height="2" rx="0" fill="#0d7a31" />
<path d="M1012,252 l18,0 l10,10 l0,3 l-3,0 l-9,-9 l-16,0 Z" fill="#0e7f34"/>
<path d="M1086,262 l14,0 l0,2.4 l-14,0 Z" fill="#0e7f34"/>
<path d="M1012,300 l10,10 l0,12 l-3,0 l0,-10 l-9,-9 Z" fill="#0e7f34"/>
<path d="M1060,300 l24,0 l0,2.4 l-24,0 Z" fill="#0f8637"/>
<path d="M1086,306 l16,0 l0,2.4 l-16,0 Z" fill="#0e7f34"/>
<path d="M1112,310 l0,12 l-2.6,0 l0,-12 Z" fill="#0e7f34"/>
<path d="M1130,252 l10,0 l0,4 l-6,0 Z" fill="#0b6e2c"/>
<rect x="1010" y="248.6" width="150" height="1.4" rx="0" fill="#0d7a31" />
<rect x="983.2" y="263" width="26" height="24.6" rx="1" fill="#aaa39d" />
<rect x="999.8" y="263.8" width="8.6" height="23" rx="0.8" fill="#b9b2ac" />
<rect x="983.8" y="263.6" width="24.8" height="2" rx="0.6" fill="#c4beb8" />
<rect x="983.8" y="285.2" width="24.8" height="1.8" rx="0.6" fill="#8f8984" />
<rect x="985.6" y="265.3" width="14.2" height="20" rx="0.6" fill="#0e0d0f" />
<rect x="984" y="272.1" width="2.6" height="6.4" rx="0.4" fill="#0e0d0f" />
<rect x="986.4" y="266.4" width="2" height="3.4" rx="0.4" fill="#d9b437" />
<rect x="986.4" y="280.8" width="2" height="3.4" rx="0.4" fill="#d9b437" />
<rect x="983.2" y="295.2" width="26" height="24.4" rx="1" fill="#aaa39d" />
<rect x="999.8" y="296" width="8.6" height="22.8" rx="0.8" fill="#b9b2ac" />
<rect x="983.8" y="295.8" width="24.8" height="2" rx="0.6" fill="#c4beb8" />
<rect x="983.8" y="317.2" width="24.8" height="1.8" rx="0.6" fill="#8f8984" />
<rect x="985.6" y="297.5" width="14.2" height="19.8" rx="0.6" fill="#0e0d0f" />
<rect x="984" y="304.2" width="2.6" height="6.4" rx="0.4" fill="#0e0d0f" />
<rect x="986.4" y="298.6" width="2" height="3.4" rx="0.4" fill="#d9b437" />
<rect x="986.4" y="312.8" width="2" height="3.4" rx="0.4" fill="#d9b437" />
<rect x="986" y="260.6" width="10" height="1.4" rx="0" fill="#bfe6c8" />
<rect x="986" y="291.6" width="12" height="1.4" rx="0" fill="#bfe6c8" />
<rect x="984.6" y="252" width="2.6" height="5" rx="0.4" fill="#d6d6d6" />
<rect x="988.6" y="252" width="2.6" height="5" rx="0.4" fill="#3a3a3a" />
<rect x="1014" y="268" width="6.4" height="1.8" rx="0.3" fill="#9ad0a6" />
<rect x="1014" y="272.4" width="6.4" height="1.8" rx="0.3" fill="#9ad0a6" />
<rect x="1014" y="301" width="6.4" height="1.8" rx="0.3" fill="#9ad0a6" />
<rect x="1014" y="306" width="6.4" height="1.8" rx="0.3" fill="#9ad0a6" />
<rect x="1014" y="311" width="6.4" height="1.8" rx="0.3" fill="#9ad0a6" />
<rect x="1016.4" y="275.6" width="3.6" height="4" rx="0.4" fill="#1f2a22" />
<rect x="1016.4" y="296" width="3.6" height="4.6" rx="0.4" fill="#1f2a22" />
<rect x="1032.6" y="257.6" width="8.6" height="5" rx="0.4" fill="#e8e8e8" />
<rect x="1032.6" y="262.4" width="8.6" height="6" rx="0.4" fill="#222" />
<rect x="1033.2" y="268.4" width="1.8" height="2.6" rx="0" fill="#cfcfcf" />
<rect x="1036.2" y="268.4" width="1.8" height="2.6" rx="0" fill="#cfcfcf" />
<rect x="1039.2" y="268.4" width="1.8" height="2.6" rx="0" fill="#cfcfcf" />
<rect x="1044.2" y="259" width="1.8" height="7" rx="0.3" fill="#bdbdbd" />
<rect x="1050.4" y="270.6" width="7.6" height="8.2" rx="0.5" fill="#3a1f1f" />
<rect x="1051" y="268.8" width="1" height="1.8" rx="0" fill="#cfcfcf" />
<rect x="1051" y="278.8" width="1" height="1.8" rx="0" fill="#cfcfcf" />
<rect x="1052.9" y="268.8" width="1" height="1.8" rx="0" fill="#cfcfcf" />
<rect x="1052.9" y="278.8" width="1" height="1.8" rx="0" fill="#cfcfcf" />
<rect x="1054.8" y="268.8" width="1" height="1.8" rx="0" fill="#cfcfcf" />
<rect x="1054.8" y="278.8" width="1" height="1.8" rx="0" fill="#cfcfcf" />
<rect x="1056.7" y="268.8" width="1" height="1.8" rx="0" fill="#cfcfcf" />
<rect x="1056.7" y="278.8" width="1" height="1.8" rx="0" fill="#cfcfcf" />
<rect x="1032.4" y="286.6" width="6.6" height="6.6" rx="0.5" fill="#2e3a33" />
<rect x="1030.6" y="284.8" width="10.2" height="10.2" rx="0.5" fill="none" stroke="#a8d5b3" stroke-width="0.8" stroke-dasharray="0.8 0.8"/>
<rect x="1047.6" y="300.6" width="8.4" height="5.6" rx="0.5" fill="#27332b" />
<rect x="1046.4" y="298.6" width="10.8" height="9.6" rx="0.5" fill="none" stroke="#a8d5b3" stroke-width="0.8" stroke-dasharray="0.8 0.9"/>
<rect x="1068" y="282" width="5" height="3" rx="0.4" fill="#7fbf8f" />
<rect x="1062" y="288.6" width="4.6" height="3.4" rx="0.4" fill="#7fbf8f" />
<rect x="1069" y="295.6" width="5" height="3.2" rx="0.4" fill="#7fbf8f" />
<rect x="1046" y="288" width="3" height="5" rx="0.4" fill="#7fbf8f" />
<rect x="1076.6" y="286.4" width="3.4" height="5.4" rx="0.4" fill="#7fbf8f" />
<rect x="1034" y="300" width="6" height="2" rx="0.4" fill="#7fbf8f" />
<rect x="1047" y="309.6" width="9" height="1.6" rx="0.4" fill="#7fbf8f" />
<rect x="1025" y="283" width="3" height="2.6" rx="0.4" fill="#7fbf8f" />
<text x="1068.6" y="264.4" font-size="4.4" font-style="italic" fill="#bfe8c9" textLength="11">ADST</text>
<text x="1061.6" y="271.6" font-size="5" fill="#d6f2dc" textLength="31">ESIO-3232-V1_4</text>
<text x="1059.4" y="275.8" font-size="3.4" fill="#9fd7ae" textLength="28">32 IN 32 OUT BOARD</text>
<text x="1075" y="279.6" font-size="3.2" fill="#9fd7ae" textLength="9">V1.0.0</text>
<rect x="1103.6" y="262" width="3.4" height="17.6" rx="0.4" fill="#2b2b2b" />
<circle cx="1105.3" cy="264.2" r="0.7" fill="#b8b8b8"/>
<circle cx="1105.3" cy="267.5" r="0.7" fill="#b8b8b8"/>
<circle cx="1105.3" cy="270.8" r="0.7" fill="#b8b8b8"/>
<circle cx="1105.3" cy="274.1" r="0.7" fill="#b8b8b8"/>
<circle cx="1105.3" cy="277.4" r="0.7" fill="#b8b8b8"/>
<rect x="1103.4" y="287.2" width="4" height="31.4" rx="0.5" fill="#111" />
<circle cx="1105.4" cy="289.6" r="0.7" fill="#8a8a8a"/>
<circle cx="1105.4" cy="293.4" r="0.7" fill="#8a8a8a"/>
<circle cx="1105.4" cy="297.2" r="0.7" fill="#8a8a8a"/>
<circle cx="1105.4" cy="301" r="0.7" fill="#8a8a8a"/>
<circle cx="1105.4" cy="304.8" r="0.7" fill="#8a8a8a"/>
<circle cx="1105.4" cy="308.6" r="0.7" fill="#8a8a8a"/>
<circle cx="1105.4" cy="312.4" r="0.7" fill="#8a8a8a"/>
<circle cx="1105.4" cy="316.2" r="0.7" fill="#8a8a8a"/>
<rect x="1115.8" y="270.4" width="4" height="3.6" rx="0.4" fill="#e4e4e4" />
<rect x="1115.2" y="274.4" width="5.2" height="2" rx="0" fill="#9ad0a6" />
<rect x="1110.4" y="281.6" width="5" height="4.4" rx="0.5" fill="#c4a8a0" />
<rect x="1117" y="281.6" width="5" height="4.4" rx="0.5" fill="#c4a8a0" />
<rect x="1115" y="291" width="16.4" height="15.6" rx="2.2" fill="#3a3d3b" />
<circle cx="1123.2" cy="298.8" r="6.4" fill="#2a2426"/>
<circle cx="1123.2" cy="298.8" r="3.8" fill="#3b2f33"/>
<rect x="1127" y="309" width="6" height="3.4" rx="0.4" fill="#9ad0a6" />
<rect x="1136.8" y="254" width="19.4" height="29.6" rx="1" fill="#0c5f2d" />
<rect x="1139.6" y="259.8" width="14.2" height="20.8" rx="3.4" fill="#c9772e" />
<rect x="1141.8" y="263.6" width="10" height="12.8" rx="1.6" fill="#3d8fa8" />
<rect x="1141.8" y="263.6" width="10" height="3.4" rx="1.2" fill="#9fc7c9" />
<rect x="1142.6" y="274" width="8" height="2.2" rx="0.6" fill="#2c6d86" />
<circle cx="1152.4" cy="289.8" r="6.6" fill="#2c2c30"/>
<circle cx="1152.8" cy="289.4" r="4.9" fill="#d7d3d8"/>
<path d="M1148.6,286.6 a5,5 0 0 1 8,0 Z" fill="#f0eef1"/>
<rect x="1157.2" y="297.6" width="8.6" height="4.6" rx="0.5" fill="#b5332b" />
<rect x="1160" y="298.4" width="3" height="3" rx="0.3" fill="#e8d8d0" />
<rect x="1137.8" y="299.6" width="7.4" height="6.4" rx="0.5" fill="#b9a79a" />
<rect x="1137.8" y="313.6" width="7.4" height="6.4" rx="0.5" fill="#b9a79a" />
<rect x="1137" y="306.4" width="9" height="6.6" rx="0.5" fill="#1d1d1f" />
<rect x="1149.6" y="307" width="2.6" height="7" rx="0.4" fill="#d0d0d0" />
<rect x="1131" y="309.6" width="5" height="2" rx="0" fill="#a0d4ac" />
<rect x="1154" y="314.6" width="11" height="1.4" rx="0" fill="#a7dcb3" />
<rect x="1154" y="317.2" width="11" height="1.4" rx="0" fill="#a7dcb3" />
<rect x="1154" y="319.8" width="11" height="1.4" rx="0" fill="#a7dcb3" />
<rect x="1157" y="308" width="7" height="2" rx="0" fill="#a7dcb3" />
<rect x="993.4" y="329.8" width="3" height="4.8" rx="0.9" fill="#e6e0e0" />
<rect x="993.2" y="331.4" width="3.4" height="1.4" rx="0" fill="#9fb5a6" />
<rect x="993.3" y="337.6" width="2.8" height="3.8" rx="0.8" fill="#3fa45c" />
<rect x="994" y="338.6" width="1.4" height="1.6" rx="0.5" fill="#1c7d3e" />
<rect x="998.64" y="329.8" width="3" height="4.8" rx="0.9" fill="#e6e0e0" />
<rect x="998.44" y="331.4" width="3.4" height="1.4" rx="0" fill="#9fb5a6" />
<rect x="998.54" y="337.6" width="2.8" height="3.8" rx="0.8" fill="#3fa45c" />
<rect x="999.24" y="338.6" width="1.4" height="1.6" rx="0.5" fill="#1c7d3e" />
<rect x="1003.88" y="329.8" width="3" height="4.8" rx="0.9" fill="#e6e0e0" />
<rect x="1003.68" y="331.4" width="3.4" height="1.4" rx="0" fill="#9fb5a6" />
<rect x="1003.78" y="337.6" width="2.8" height="3.8" rx="0.8" fill="#3fa45c" />
<rect x="1004.48" y="338.6" width="1.4" height="1.6" rx="0.5" fill="#1c7d3e" />
<rect x="1009.12" y="329.8" width="3" height="4.8" rx="0.9" fill="#e6e0e0" />
<rect x="1008.92" y="331.4" width="3.4" height="1.4" rx="0" fill="#9fb5a6" />
<rect x="1009.02" y="337.6" width="2.8" height="3.8" rx="0.8" fill="#3fa45c" />
<rect x="1009.72" y="338.6" width="1.4" height="1.6" rx="0.5" fill="#1c7d3e" />
<rect x="1014.36" y="329.8" width="3" height="4.8" rx="0.9" fill="#e6e0e0" />
<rect x="1014.16" y="331.4" width="3.4" height="1.4" rx="0" fill="#9fb5a6" />
<rect x="1014.26" y="337.6" width="2.8" height="3.8" rx="0.8" fill="#3fa45c" />
<rect x="1014.96" y="338.6" width="1.4" height="1.6" rx="0.5" fill="#1c7d3e" />
<rect x="1019.6" y="329.8" width="3" height="4.8" rx="0.9" fill="#e6e0e0" />
<rect x="1019.4" y="331.4" width="3.4" height="1.4" rx="0" fill="#9fb5a6" />
<rect x="1019.5" y="337.6" width="2.8" height="3.8" rx="0.8" fill="#3fa45c" />
<rect x="1020.2" y="338.6" width="1.4" height="1.6" rx="0.5" fill="#1c7d3e" />
<rect x="1024.84" y="329.8" width="3" height="4.8" rx="0.9" fill="#e6e0e0" />
<rect x="1024.64" y="331.4" width="3.4" height="1.4" rx="0" fill="#9fb5a6" />
<rect x="1024.74" y="337.6" width="2.8" height="3.8" rx="0.8" fill="#3fa45c" />
<rect x="1025.44" y="338.6" width="1.4" height="1.6" rx="0.5" fill="#1c7d3e" />
<rect x="1030.08" y="329.8" width="3" height="4.8" rx="0.9" fill="#e6e0e0" />
<rect x="1029.88" y="331.4" width="3.4" height="1.4" rx="0" fill="#9fb5a6" />
<rect x="1029.98" y="337.6" width="2.8" height="3.8" rx="0.8" fill="#3fa45c" />
<rect x="1030.68" y="338.6" width="1.4" height="1.6" rx="0.5" fill="#1c7d3e" />
<rect x="990" y="343.6" width="43.2" height="14.2" rx="0.8" fill="#7ed887" />
<rect x="990" y="343.6" width="43.2" height="3" rx="0.8" fill="#93e39a" />
<rect x="990" y="354.6" width="43.2" height="3.2" rx="0.8" fill="#6fcf7a" />
<circle cx="993" cy="351.6" r="2.2" fill="#4f7f5f"/>
<circle cx="993" cy="351.6" r="1.3" fill="#596b5f"/>
<circle cx="998.24" cy="351.6" r="2.2" fill="#4f7f5f"/>
<circle cx="998.24" cy="351.6" r="1.3" fill="#596b5f"/>
<circle cx="1003.48" cy="351.6" r="2.2" fill="#4f7f5f"/>
<circle cx="1003.48" cy="351.6" r="1.3" fill="#596b5f"/>
<circle cx="1008.72" cy="351.6" r="2.2" fill="#4f7f5f"/>
<circle cx="1008.72" cy="351.6" r="1.3" fill="#596b5f"/>
<circle cx="1013.96" cy="351.6" r="2.2" fill="#4f7f5f"/>
<circle cx="1013.96" cy="351.6" r="1.3" fill="#596b5f"/>
<circle cx="1019.2" cy="351.6" r="2.2" fill="#4f7f5f"/>
<circle cx="1019.2" cy="351.6" r="1.3" fill="#596b5f"/>
<circle cx="1024.44" cy="351.6" r="2.2" fill="#4f7f5f"/>
<circle cx="1024.44" cy="351.6" r="1.3" fill="#596b5f"/>
<circle cx="1029.68" cy="351.6" r="2.2" fill="#4f7f5f"/>
<circle cx="1029.68" cy="351.6" r="1.3" fill="#596b5f"/>
<rect x="1037.8" y="329.8" width="3" height="4.8" rx="0.9" fill="#e6e0e0" />
<rect x="1037.6" y="331.4" width="3.4" height="1.4" rx="0" fill="#9fb5a6" />
<rect x="1037.7" y="337.6" width="2.8" height="3.8" rx="0.8" fill="#3fa45c" />
<rect x="1038.4" y="338.6" width="1.4" height="1.6" rx="0.5" fill="#1c7d3e" />
<rect x="1043.04" y="329.8" width="3" height="4.8" rx="0.9" fill="#e6e0e0" />
<rect x="1042.84" y="331.4" width="3.4" height="1.4" rx="0" fill="#9fb5a6" />
<rect x="1042.94" y="337.6" width="2.8" height="3.8" rx="0.8" fill="#3fa45c" />
<rect x="1043.64" y="338.6" width="1.4" height="1.6" rx="0.5" fill="#1c7d3e" />
<rect x="1048.28" y="329.8" width="3" height="4.8" rx="0.9" fill="#e6e0e0" />
<rect x="1048.08" y="331.4" width="3.4" height="1.4" rx="0" fill="#9fb5a6" />
<rect x="1048.18" y="337.6" width="2.8" height="3.8" rx="0.8" fill="#3fa45c" />
<rect x="1048.88" y="338.6" width="1.4" height="1.6" rx="0.5" fill="#1c7d3e" />
<rect x="1053.52" y="329.8" width="3" height="4.8" rx="0.9" fill="#e6e0e0" />
<rect x="1053.32" y="331.4" width="3.4" height="1.4" rx="0" fill="#9fb5a6" />
<rect x="1053.42" y="337.6" width="2.8" height="3.8" rx="0.8" fill="#3fa45c" />
<rect x="1054.12" y="338.6" width="1.4" height="1.6" rx="0.5" fill="#1c7d3e" />
<rect x="1058.76" y="329.8" width="3" height="4.8" rx="0.9" fill="#e6e0e0" />
<rect x="1058.56" y="331.4" width="3.4" height="1.4" rx="0" fill="#9fb5a6" />
<rect x="1058.66" y="337.6" width="2.8" height="3.8" rx="0.8" fill="#3fa45c" />
<rect x="1059.36" y="338.6" width="1.4" height="1.6" rx="0.5" fill="#1c7d3e" />
<rect x="1064" y="329.8" width="3" height="4.8" rx="0.9" fill="#e6e0e0" />
<rect x="1063.8" y="331.4" width="3.4" height="1.4" rx="0" fill="#9fb5a6" />
<rect x="1063.9" y="337.6" width="2.8" height="3.8" rx="0.8" fill="#3fa45c" />
<rect x="1064.6" y="338.6" width="1.4" height="1.6" rx="0.5" fill="#1c7d3e" />
<rect x="1069.24" y="329.8" width="3" height="4.8" rx="0.9" fill="#e6e0e0" />
<rect x="1069.04" y="331.4" width="3.4" height="1.4" rx="0" fill="#9fb5a6" />
<rect x="1069.14" y="337.6" width="2.8" height="3.8" rx="0.8" fill="#3fa45c" />
<rect x="1069.84" y="338.6" width="1.4" height="1.6" rx="0.5" fill="#1c7d3e" />
<rect x="1074.48" y="329.8" width="3" height="4.8" rx="0.9" fill="#e6e0e0" />
<rect x="1074.28" y="331.4" width="3.4" height="1.4" rx="0" fill="#9fb5a6" />
<rect x="1074.38" y="337.6" width="2.8" height="3.8" rx="0.8" fill="#3fa45c" />
<rect x="1075.08" y="338.6" width="1.4" height="1.6" rx="0.5" fill="#1c7d3e" />
<rect x="1034.4" y="343.6" width="43.2" height="14.2" rx="0.8" fill="#7ed887" />
<rect x="1034.4" y="343.6" width="43.2" height="3" rx="0.8" fill="#93e39a" />
<rect x="1034.4" y="354.6" width="43.2" height="3.2" rx="0.8" fill="#6fcf7a" />
<circle cx="1037.4" cy="351.6" r="2.2" fill="#4f7f5f"/>
<circle cx="1037.4" cy="351.6" r="1.3" fill="#596b5f"/>
<circle cx="1042.64" cy="351.6" r="2.2" fill="#4f7f5f"/>
<circle cx="1042.64" cy="351.6" r="1.3" fill="#596b5f"/>
<circle cx="1047.88" cy="351.6" r="2.2" fill="#4f7f5f"/>
<circle cx="1047.88" cy="351.6" r="1.3" fill="#596b5f"/>
<circle cx="1053.12" cy="351.6" r="2.2" fill="#4f7f5f"/>
<circle cx="1053.12" cy="351.6" r="1.3" fill="#596b5f"/>
<circle cx="1058.36" cy="351.6" r="2.2" fill="#4f7f5f"/>
<circle cx="1058.36" cy="351.6" r="1.3" fill="#596b5f"/>
<circle cx="1063.6" cy="351.6" r="2.2" fill="#4f7f5f"/>
<circle cx="1063.6" cy="351.6" r="1.3" fill="#596b5f"/>
<circle cx="1068.84" cy="351.6" r="2.2" fill="#4f7f5f"/>
<circle cx="1068.84" cy="351.6" r="1.3" fill="#596b5f"/>
<circle cx="1074.08" cy="351.6" r="2.2" fill="#4f7f5f"/>
<circle cx="1074.08" cy="351.6" r="1.3" fill="#596b5f"/>
<rect x="1082.2" y="329.8" width="3" height="4.8" rx="0.9" fill="#e6e0e0" />
<rect x="1082" y="331.4" width="3.4" height="1.4" rx="0" fill="#9fb5a6" />
<rect x="1082.1" y="337.6" width="2.8" height="3.8" rx="0.8" fill="#3fa45c" />
<rect x="1082.8" y="338.6" width="1.4" height="1.6" rx="0.5" fill="#1c7d3e" />
<rect x="1087.44" y="329.8" width="3" height="4.8" rx="0.9" fill="#e6e0e0" />
<rect x="1087.24" y="331.4" width="3.4" height="1.4" rx="0" fill="#9fb5a6" />
<rect x="1087.34" y="337.6" width="2.8" height="3.8" rx="0.8" fill="#3fa45c" />
<rect x="1088.04" y="338.6" width="1.4" height="1.6" rx="0.5" fill="#1c7d3e" />
<rect x="1092.68" y="329.8" width="3" height="4.8" rx="0.9" fill="#e6e0e0" />
<rect x="1092.48" y="331.4" width="3.4" height="1.4" rx="0" fill="#9fb5a6" />
<rect x="1092.58" y="337.6" width="2.8" height="3.8" rx="0.8" fill="#3fa45c" />
<rect x="1093.28" y="338.6" width="1.4" height="1.6" rx="0.5" fill="#1c7d3e" />
<rect x="1097.92" y="329.8" width="3" height="4.8" rx="0.9" fill="#e6e0e0" />
<rect x="1097.72" y="331.4" width="3.4" height="1.4" rx="0" fill="#9fb5a6" />
<rect x="1097.82" y="337.6" width="2.8" height="3.8" rx="0.8" fill="#3fa45c" />
<rect x="1098.52" y="338.6" width="1.4" height="1.6" rx="0.5" fill="#1c7d3e" />
<rect x="1103.16" y="329.8" width="3" height="4.8" rx="0.9" fill="#e6e0e0" />
<rect x="1102.96" y="331.4" width="3.4" height="1.4" rx="0" fill="#9fb5a6" />
<rect x="1103.06" y="337.6" width="2.8" height="3.8" rx="0.8" fill="#3fa45c" />
<rect x="1103.76" y="338.6" width="1.4" height="1.6" rx="0.5" fill="#1c7d3e" />
<rect x="1108.4" y="329.8" width="3" height="4.8" rx="0.9" fill="#e6e0e0" />
<rect x="1108.2" y="331.4" width="3.4" height="1.4" rx="0" fill="#9fb5a6" />
<rect x="1108.3" y="337.6" width="2.8" height="3.8" rx="0.8" fill="#3fa45c" />
<rect x="1109" y="338.6" width="1.4" height="1.6" rx="0.5" fill="#1c7d3e" />
<rect x="1113.64" y="329.8" width="3" height="4.8" rx="0.9" fill="#e6e0e0" />
<rect x="1113.44" y="331.4" width="3.4" height="1.4" rx="0" fill="#9fb5a6" />
<rect x="1113.54" y="337.6" width="2.8" height="3.8" rx="0.8" fill="#3fa45c" />
<rect x="1114.24" y="338.6" width="1.4" height="1.6" rx="0.5" fill="#1c7d3e" />
<rect x="1118.88" y="329.8" width="3" height="4.8" rx="0.9" fill="#e6e0e0" />
<rect x="1118.68" y="331.4" width="3.4" height="1.4" rx="0" fill="#9fb5a6" />
<rect x="1118.78" y="337.6" width="2.8" height="3.8" rx="0.8" fill="#3fa45c" />
<rect x="1119.48" y="338.6" width="1.4" height="1.6" rx="0.5" fill="#1c7d3e" />
<rect x="1078.8" y="343.6" width="43.2" height="14.2" rx="0.8" fill="#7ed887" />
<rect x="1078.8" y="343.6" width="43.2" height="3" rx="0.8" fill="#93e39a" />
<rect x="1078.8" y="354.6" width="43.2" height="3.2" rx="0.8" fill="#6fcf7a" />
<circle cx="1081.8" cy="351.6" r="2.2" fill="#4f7f5f"/>
<circle cx="1081.8" cy="351.6" r="1.3" fill="#596b5f"/>
<circle cx="1087.04" cy="351.6" r="2.2" fill="#4f7f5f"/>
<circle cx="1087.04" cy="351.6" r="1.3" fill="#596b5f"/>
<circle cx="1092.28" cy="351.6" r="2.2" fill="#4f7f5f"/>
<circle cx="1092.28" cy="351.6" r="1.3" fill="#596b5f"/>
<circle cx="1097.52" cy="351.6" r="2.2" fill="#4f7f5f"/>
<circle cx="1097.52" cy="351.6" r="1.3" fill="#596b5f"/>
<circle cx="1102.76" cy="351.6" r="2.2" fill="#4f7f5f"/>
<circle cx="1102.76" cy="351.6" r="1.3" fill="#596b5f"/>
<circle cx="1108" cy="351.6" r="2.2" fill="#4f7f5f"/>
<circle cx="1108" cy="351.6" r="1.3" fill="#596b5f"/>
<circle cx="1113.24" cy="351.6" r="2.2" fill="#4f7f5f"/>
<circle cx="1113.24" cy="351.6" r="1.3" fill="#596b5f"/>
<circle cx="1118.48" cy="351.6" r="2.2" fill="#4f7f5f"/>
<circle cx="1118.48" cy="351.6" r="1.3" fill="#596b5f"/>
<rect x="1126.6" y="329.8" width="3" height="4.8" rx="0.9" fill="#e6e0e0" />
<rect x="1126.4" y="331.4" width="3.4" height="1.4" rx="0" fill="#9fb5a6" />
<rect x="1126.5" y="337.6" width="2.8" height="3.8" rx="0.8" fill="#3fa45c" />
<rect x="1127.2" y="338.6" width="1.4" height="1.6" rx="0.5" fill="#1c7d3e" />
<rect x="1131.84" y="329.8" width="3" height="4.8" rx="0.9" fill="#e6e0e0" />
<rect x="1131.64" y="331.4" width="3.4" height="1.4" rx="0" fill="#9fb5a6" />
<rect x="1131.74" y="337.6" width="2.8" height="3.8" rx="0.8" fill="#3fa45c" />
<rect x="1132.44" y="338.6" width="1.4" height="1.6" rx="0.5" fill="#1c7d3e" />
<rect x="1137.08" y="329.8" width="3" height="4.8" rx="0.9" fill="#e6e0e0" />
<rect x="1136.88" y="331.4" width="3.4" height="1.4" rx="0" fill="#9fb5a6" />
<rect x="1136.98" y="337.6" width="2.8" height="3.8" rx="0.8" fill="#3fa45c" />
<rect x="1137.68" y="338.6" width="1.4" height="1.6" rx="0.5" fill="#1c7d3e" />
<rect x="1142.32" y="329.8" width="3" height="4.8" rx="0.9" fill="#e6e0e0" />
<rect x="1142.12" y="331.4" width="3.4" height="1.4" rx="0" fill="#9fb5a6" />
<rect x="1142.22" y="337.6" width="2.8" height="3.8" rx="0.8" fill="#3fa45c" />
<rect x="1142.92" y="338.6" width="1.4" height="1.6" rx="0.5" fill="#1c7d3e" />
<rect x="1147.56" y="329.8" width="3" height="4.8" rx="0.9" fill="#e6e0e0" />
<rect x="1147.36" y="331.4" width="3.4" height="1.4" rx="0" fill="#9fb5a6" />
<rect x="1147.46" y="337.6" width="2.8" height="3.8" rx="0.8" fill="#3fa45c" />
<rect x="1148.16" y="338.6" width="1.4" height="1.6" rx="0.5" fill="#1c7d3e" />
<rect x="1152.8" y="329.8" width="3" height="4.8" rx="0.9" fill="#e6e0e0" />
<rect x="1152.6" y="331.4" width="3.4" height="1.4" rx="0" fill="#9fb5a6" />
<rect x="1152.7" y="337.6" width="2.8" height="3.8" rx="0.8" fill="#3fa45c" />
<rect x="1153.4" y="338.6" width="1.4" height="1.6" rx="0.5" fill="#1c7d3e" />
<rect x="1158.04" y="329.8" width="3" height="4.8" rx="0.9" fill="#e6e0e0" />
<rect x="1157.84" y="331.4" width="3.4" height="1.4" rx="0" fill="#9fb5a6" />
<rect x="1157.94" y="337.6" width="2.8" height="3.8" rx="0.8" fill="#3fa45c" />
<rect x="1158.64" y="338.6" width="1.4" height="1.6" rx="0.5" fill="#1c7d3e" />
<rect x="1163.28" y="329.8" width="3" height="4.8" rx="0.9" fill="#e6e0e0" />
<rect x="1163.08" y="331.4" width="3.4" height="1.4" rx="0" fill="#9fb5a6" />
<rect x="1163.18" y="337.6" width="2.8" height="3.8" rx="0.8" fill="#3fa45c" />
<rect x="1163.88" y="338.6" width="1.4" height="1.6" rx="0.5" fill="#1c7d3e" />
<rect x="1123.2" y="343.6" width="43.2" height="14.2" rx="0.8" fill="#7ed887" />
<rect x="1123.2" y="343.6" width="43.2" height="3" rx="0.8" fill="#93e39a" />
<rect x="1123.2" y="354.6" width="43.2" height="3.2" rx="0.8" fill="#6fcf7a" />
<circle cx="1126.2" cy="351.6" r="2.2" fill="#4f7f5f"/>
<circle cx="1126.2" cy="351.6" r="1.3" fill="#596b5f"/>
<circle cx="1131.44" cy="351.6" r="2.2" fill="#4f7f5f"/>
<circle cx="1131.44" cy="351.6" r="1.3" fill="#596b5f"/>
<circle cx="1136.68" cy="351.6" r="2.2" fill="#4f7f5f"/>
<circle cx="1136.68" cy="351.6" r="1.3" fill="#596b5f"/>
<circle cx="1141.92" cy="351.6" r="2.2" fill="#4f7f5f"/>
<circle cx="1141.92" cy="351.6" r="1.3" fill="#596b5f"/>
<circle cx="1147.16" cy="351.6" r="2.2" fill="#4f7f5f"/>
<circle cx="1147.16" cy="351.6" r="1.3" fill="#596b5f"/>
<circle cx="1152.4" cy="351.6" r="2.2" fill="#4f7f5f"/>
<circle cx="1152.4" cy="351.6" r="1.3" fill="#596b5f"/>
<circle cx="1157.64" cy="351.6" r="2.2" fill="#4f7f5f"/>
<circle cx="1157.64" cy="351.6" r="1.3" fill="#596b5f"/>
<circle cx="1162.88" cy="351.6" r="2.2" fill="#4f7f5f"/>
<circle cx="1162.88" cy="351.6" r="1.3" fill="#596b5f"/>
<rect x="1161.4" y="257" width="25.4" height="24.6" rx="0.8" fill="#66cf76" />
<rect x="1178" y="257" width="8.8" height="24.6" rx="0.8" fill="#7cdc8a" />
<rect x="1161.4" y="257" width="25.4" height="2" rx="0" fill="#8ae497" />
<rect x="1167.6" y="259" width="5.4" height="4.8" rx="0.4" fill="#2f5a3a" />
<rect x="1168.6" y="260" width="3.6" height="3" rx="0.3" fill="#1c2d22" />
<rect x="1176.4" y="264.4" width="9" height="0.8" rx="0" fill="#58bd68" />
<rect x="1167.6" y="266.4" width="5.4" height="4.8" rx="0.4" fill="#2f5a3a" />
<rect x="1168.6" y="267.4" width="3.6" height="3" rx="0.3" fill="#1c2d22" />
<rect x="1176.4" y="271.8" width="9" height="0.8" rx="0" fill="#58bd68" />
<rect x="1167.6" y="273.8" width="5.4" height="4.8" rx="0.4" fill="#2f5a3a" />
<rect x="1168.6" y="274.8" width="3.6" height="3" rx="0.3" fill="#1c2d22" />
<rect x="1176.4" y="279.2" width="9" height="0.8" rx="0" fill="#58bd68" />
</g>
<polyline points="391.1,330 391.1,250.4 653.4,250.4 653.4,148.2 663,148.2" fill="none" stroke="#e21f26" stroke-width="3.0" stroke-linejoin="miter"/>
<polygon points="661.8,138 661.8,158.4 679.8,148.2" fill="#e21f26"/>
<polygon points="380.9,328.7 400.7,328.7 390.9,347.5" fill="#e21f26"/>
<polyline points="700,119.7 799.9,119.7 799.9,190.9 852,190.9" fill="none" stroke="#e21f26" stroke-width="3.0" stroke-linejoin="miter"/>
<polygon points="701.4,109.4 701.4,130.2 684,119.8" fill="#e21f26"/>
<polygon points="850.7,180.8 850.7,201 868,190.9" fill="#e21f26"/>
<polyline points="879,157.7 926.9,157.7 926.9,275.2 974,275.2" fill="none" stroke="#e21f26" stroke-width="3.0" stroke-linejoin="miter"/>
<polygon points="880.2,148.2 880.2,167.8 861.6,158" fill="#e21f26"/>
<polygon points="972.6,264.9 972.6,286.2 992.7,275.5" fill="#e21f26"/>
<polyline points="437.1,358 437.1,436 331,436" fill="none" stroke="#e21f26" stroke-width="3.0" stroke-linejoin="miter"/>
<polygon points="426.9,359.4 447.4,359.4 437,339.3" fill="#e21f26"/>
<polygon points="331.7,425.5 331.7,446.6 312.6,435.8" fill="#e21f26"/>
<text x="624" y="128.8" font-size="23.2" fill="#e21f26" stroke="#e21f26" stroke-width="0.7" stroke-linejoin="round" textLength="37.6" lengthAdjust="spacingAndGlyphs">CN4</text>
<text x="709" y="157" font-size="23.4" fill="#e21f26" stroke="#e21f26" stroke-width="0.7" stroke-linejoin="round" textLength="37.2" lengthAdjust="spacingAndGlyphs">CN3</text>
<text x="900.8" y="304" font-size="22.4" fill="#e21f26" stroke="#e21f26" stroke-width="0.7" stroke-linejoin="round" textLength="67.6" lengthAdjust="spacingAndGlyphs">ECAT IN</text>
</svg>
</body></html>
